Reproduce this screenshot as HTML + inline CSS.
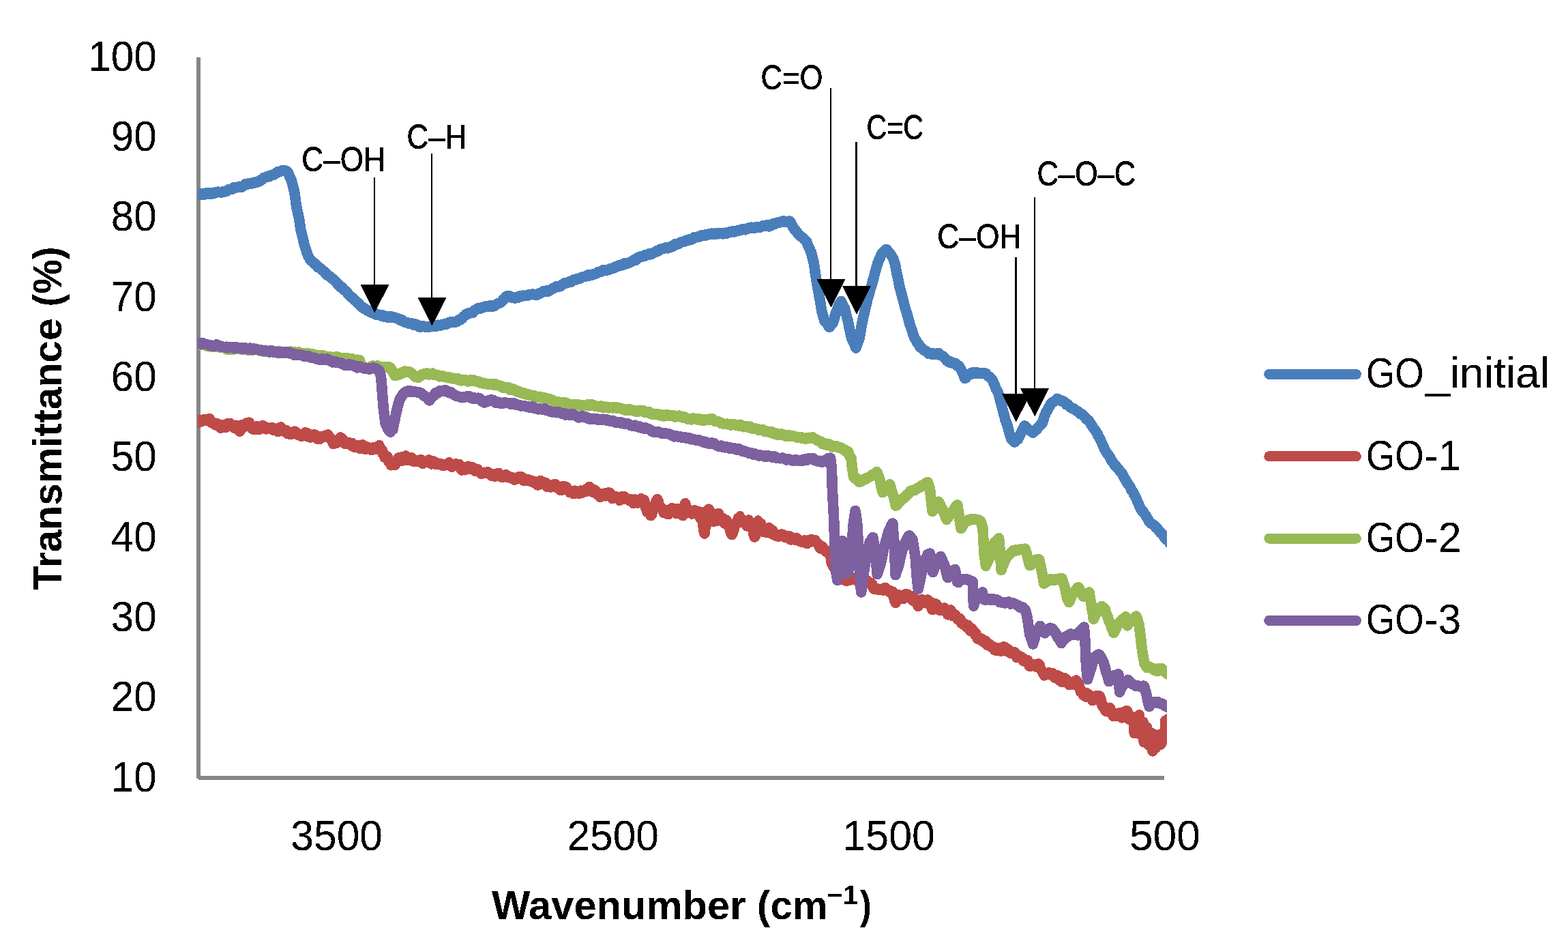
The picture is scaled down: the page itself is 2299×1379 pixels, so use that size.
<!DOCTYPE html>
<html lang="en">
<head>
<meta charset="utf-8">
<title>FTIR transmittance spectra of GO samples</title>
<style>
html,body{margin:0;padding:0;background:#fff;}
body{width:2299px;height:1379px;overflow:hidden;}
svg{display:block;font-family:"Liberation Sans",sans-serif;fill:#000;}
</style>
</head>
<body>
<svg width="2299" height="1379" viewBox="0 0 2299 1379">
<rect width="2299" height="1379" fill="#fff"/>
<defs><clipPath id="plot"><rect x="290" y="60" width="1421" height="1090"/></clipPath><filter id="crisp" filterUnits="userSpaceOnUse" x="0" y="0" width="2299" height="1379" color-interpolation-filters="sRGB"><feComponentTransfer><feFuncA type="discrete" tableValues="0 1"/></feComponentTransfer></filter></defs>
<g fill="#868686" shape-rendering="crispEdges">
<rect x="288" y="84" width="6" height="1057"/>
<rect x="291" y="1137" width="1416" height="6"/>
</g>
<g clip-path="url(#plot)" shape-rendering="crispEdges">
<polyline points="286,285 290.1,284.8 306.1,283.6 323.5,281.3 340.9,276.6 358.3,271.8 375.7,266.6 384.4,263.1 393.1,257.9 401.8,255.2 410.5,251.8 415.8,250 420,251 423.5,255.5 427.3,264.8 431.8,282.2 434.2,299.6 438.9,323.1 440.9,336.1 444,349.2 447.5,362.2 452.1,375.3 455.9,381.8 463.4,388.3 473.1,397.1 486.1,406.9 499.2,419.8 512.2,432.2 525.3,444.6 533.1,451.2 538.3,454.4 546.1,459.2 551.4,461.3 559.2,463.3 564.4,463.6 572.2,464.6 577.5,464.9 585.3,467.6 590.5,468.8 601.6,474.3 614.7,477.7 627.7,479 644,477 657.1,473.4 670,470.2 680,464 690.5,458.3 702.7,451.4 716.7,447.5 727.1,448.2 734.1,441.8 744.5,434 754.9,435.4 768.9,432.2 786.3,430.8 803.7,426.1 821.1,418.6 838.5,411.7 855.9,405.2 873.3,400.5 890.7,395.3 908.1,389.6 925.5,384.4 940,376.2 957.4,371 974.8,364.4 992.2,358.3 1009.6,351.3 1027,345.6 1044.4,343.2 1061.8,342.6 1079.3,338.6 1096.7,335.7 1114.1,332.2 1131.5,329.2 1148.9,324.7 1159.3,325.6 1164.5,334.8 1171.5,344.4 1181.6,352.2 1189.3,369.6 1193.3,387 1195.9,404.4 1199,421.8 1202,439.3 1205,456.7 1209,471 1215.9,479.8 1221.5,472 1226.3,456.7 1233.3,441 1238.5,452 1243.7,474 1249,497 1255,510.3 1260,497 1264.1,474 1271.6,439.3 1281.5,404.4 1286.7,387 1293,372 1300.3,366.5 1307,373 1312.5,387 1319.1,421.8 1324.3,440 1329.1,457.4 1334,474.8 1340,492.2 1347.4,506.1 1355,514 1362.2,518 1376.1,518.3 1386.6,527 1400.5,533.1 1407,538 1410,544.4 1414.4,553.7 1418.5,551 1423.1,547 1435.3,546.2 1445.8,547.6 1456.2,558.4 1464.6,579.3 1469.3,596.7 1474,614 1479.2,631.5 1483,642 1487.5,646.8 1492.5,643 1497.1,635 1502.3,625.4 1508,629.5 1514.6,633.7 1521,628 1528.6,619.7 1531.9,608.7 1537.8,596.6 1543,589.5 1550,585.2 1560.9,589.5 1573.1,598.4 1585.3,606.3 1597.5,617.6 1607.5,633.1 1613.9,645.3 1619.4,657.5 1626.5,669.7 1634.6,681.8 1641.8,690 1648.7,700.5 1653.8,708.6 1664,727.1 1672.4,745.7 1679.8,755 1685.8,764.2 1696.1,773.5 1703,782.8 1711,791.6 1718,799" fill="none" stroke="#4a7ebb" stroke-width="11.6" stroke-linejoin="round"/>
<polyline points="286,284.4 287.4,285 288.7,284.4 290.1,284.1 291.4,285.1 292.8,285.3 294.1,285 295.4,284 296.8,283.9 298.1,284.8 299.4,285.3 300.8,284.2 302.1,283.1 303.4,284 304.8,284.4 306.1,283.2 307.4,282.7 308.8,283.8 310.1,284.5 311.5,283.3 312.8,283.4 314.1,282.3 315.5,282.9 316.8,282.1 318.1,281.3 319.5,281.1 320.8,281.3 322.2,281.4 323.5,281.8 324.8,281.8 326.2,281.8 327.5,280.7 328.9,281 330.2,280.6 331.5,279.8 332.9,280.1 334.2,278.4 335.5,277.7 336.9,277.3 338.2,277.5 339.6,277.6 340.9,276.4 342.2,275 343.6,275.4 344.9,275.6 346.3,274.7 347.6,274.8 348.9,274.2 350.3,273.3 351.6,273.7 352.9,274 354.3,274.1 355.6,273.2 357,272.4 358.3,271.1 359.6,269.9 361,270.8 362.3,270.1 363.7,269.1 365,268.6 366.3,268.5 367.7,269.4 369,268.8 370.3,268.1 371.7,268.6 373,268 374.4,266.7 375.7,266.4 376.9,266.9 378.2,266.6 379.4,265.6 380.7,265.6 381.9,264.6 383.2,263.7 384.4,262.3 385.6,262.3 386.9,260.4 388.1,260.3 389.4,259.8 390.6,259.6 391.9,259.6 393.1,258.2 394.3,258.7 395.6,258.4 396.8,256.9 398.1,256.6 399.3,256.6 400.6,256.4 401.8,255.9 403,255.1 404.3,253.6 405.5,253.9 406.8,252.5 408,251.3 409.3,251.3 410.5,251.8 411.8,251 413.1,250.1 414.5,249.9 415.8,249.6 417.2,249.8 418.6,250.6 420,250.7 421.2,251.4 422.3,252.7 423.5,255.8 424.8,259.5 426,261.2 427.3,263.9 428.8,270.3 430.3,275.4 431.8,282.4 433,290.4 434.2,300 435.4,306.7 436.5,311.3 437.7,316.4 438.9,322.3 439.9,330.1 440.9,336.5 442.4,342.3 444,348.6 445.2,354.3 446.3,358.9 447.5,362.1 448.6,366 449.8,369.8 451,373.1 452.1,375.6 453.4,377.8 454.6,380.5 455.9,381.9 457.1,382.8 458.4,384.1 459.6,384.8 460.9,385.4 462.1,387.6 463.4,388.2 464.8,389.6 466.2,391.7 467.6,391.6 468.9,392.9 470.3,394.1 471.7,394.7 473.1,396.5 474.4,397.3 475.7,398.4 477,400.6 478.3,402.2 479.6,401.7 480.9,403.4 482.2,404.5 483.5,404.9 484.8,406 486.1,407.9 487.4,408.4 488.7,409.4 490,411 491.3,411.8 492.6,413.1 494,414.5 495.3,416.9 496.6,417.1 497.9,418.8 499.2,420.8 500.5,421 501.8,421.2 503.1,423.4 504.4,424.6 505.7,425.7 507,426.5 508.3,427.5 509.6,430 510.9,431.9 512.2,432.5 513.5,434.2 514.8,435.5 516.1,436 517.4,436.5 518.8,438.6 520.1,440.2 521.4,440.4 522.7,442.3 524,442.9 525.3,444.8 526.6,445.3 527.9,447.1 529.2,448.3 530.5,449.3 531.8,451 533.1,451.8 534.4,451.8 535.7,453.3 537,453.5 538.3,454.9 539.6,455.6 540.9,455.6 542.2,456.7 543.5,457.5 544.8,457.6 546.1,458.7 547.4,459.1 548.8,458.6 550.1,459 551.4,461.1 552.7,460.8 554,460.8 555.3,461.3 556.6,461.9 557.9,461.6 559.2,463.1 560.5,462.9 561.8,462.1 563.1,463.9 564.4,463.5 565.7,463.4 567,464.1 568.3,465.1 569.6,465.6 570.9,464 572.2,463.7 573.5,464 574.9,464.9 576.2,464.4 577.5,465 578.8,465.4 580.1,465.5 581.4,466.4 582.7,466.4 584,467.1 585.3,467.3 586.6,468.7 587.9,469.9 589.2,468.9 590.5,469.6 591.7,471 593,471.8 594.2,472.5 595.4,472.4 596.7,472.4 597.9,473.4 599.1,474 600.4,474.4 601.6,474.6 602.9,474 604.2,474 605.5,475.7 606.8,476.1 608.2,475.5 609.5,475.2 610.8,475.6 612.1,476.6 613.4,478.3 614.7,478.9 616,478.1 617.3,478.8 618.6,478.3 619.9,477.9 621.2,478 622.5,478.5 623.8,479.1 625.1,479.3 626.4,479.6 627.7,479 629,479.4 630.2,478.9 631.5,478.4 632.7,478.2 634,477.5 635.2,477.3 636.5,478.1 637.7,478.6 639,478.5 640.2,477.3 641.5,476.4 642.7,476.2 644,477.6 645.3,477.1 646.6,476.1 647.9,475.9 649.2,475.9 650.5,475.1 651.9,474.7 653.2,474.7 654.5,475.3 655.8,474.6 657.1,473.2 658.4,472.5 659.7,472 661,471.9 662.3,472 663.5,472.5 664.8,472.6 666.1,471.8 667.4,472.1 668.7,471.6 670,471.2 671.2,470.8 672.5,469 673.8,469 675,468.9 676.2,467.4 677.5,466.7 678.8,465 680,463.9 681.3,462.9 682.6,461.4 683.9,460.1 685.2,459.7 686.6,459.6 687.9,458.8 689.2,459 690.5,458.6 691.9,458.2 693.2,458.2 694.6,456.1 695.9,454.6 697.3,454.1 698.6,453.7 700,452.6 701.3,451.5 702.7,451.3 704,452.2 705.2,451.8 706.5,450.9 707.8,450.9 709.1,450.3 710.3,449.8 711.6,449.1 712.9,449.1 714.2,449.7 715.4,449.1 716.7,448.3 718,447.9 719.3,448.9 720.6,449.4 721.9,448.4 723.2,447.6 724.5,448.6 725.8,447.5 727.1,446.8 728.5,445.6 729.9,444.9 731.3,444.3 732.7,444 734.1,443.1 735.4,442.4 736.7,440.5 738,438.6 739.3,438 740.6,436.5 741.9,434.7 743.2,433.9 744.5,433.9 745.8,433.6 747.1,433.8 748.4,434.7 749.7,435.9 751,435.3 752.3,435.7 753.6,436.3 754.9,437 756.2,435.6 757.4,435.3 758.7,435.6 760,435.9 761.3,435.1 762.5,433.9 763.8,434.2 765.1,434.3 766.4,433.2 767.6,433.6 768.9,433.5 770.2,433.5 771.6,432.6 772.9,432.7 774.3,432.9 775.6,432 776.9,432.1 778.3,431.4 779.6,431.6 780.9,431.1 782.3,431.4 783.6,432 785,431.9 786.3,432.4 787.6,432 789,430.8 790.3,430.7 791.7,429.6 793,429.4 794.3,428.7 795.7,427.8 797,426.7 798.3,426.8 799.7,426.5 801,426.1 802.4,427.3 803.7,427 805,425.6 806.4,425.6 807.7,424.3 809.1,423.6 810.4,422.7 811.7,422.5 813.1,422 814.4,421.1 815.7,419.9 817.1,419.6 818.4,419.7 819.8,420.1 821.1,419.6 822.4,419.3 823.8,417.3 825.1,417 826.5,415.7 827.8,414.7 829.1,414.7 830.5,414.9 831.8,414.3 833.1,413.8 834.5,413 835.8,412.7 837.2,413.1 838.5,412.1 839.8,410.8 841.2,410.7 842.5,409.6 843.9,409.9 845.2,409.7 846.5,408.4 847.9,408.5 849.2,408.6 850.5,407.9 851.9,406.9 853.2,406.3 854.6,405.9 855.9,405.6 857.2,405.7 858.6,405 859.9,404.9 861.3,403.9 862.6,403 863.9,403.5 865.3,403.8 866.6,403 867.9,403 869.3,402.6 870.6,401.6 872,401.5 873.3,401.1 874.6,400.4 876,399.5 877.3,398.3 878.7,398.3 880,398.6 881.3,398.4 882.7,397.3 884,395.8 885.3,396.1 886.7,396.1 888,395.5 889.4,395.8 890.7,395.9 892,395.3 893.4,395.1 894.7,394 896.1,393.4 897.4,393.3 898.7,393.1 900.1,392.9 901.4,391.4 902.7,390.6 904.1,391.1 905.4,390.3 906.8,389.3 908.1,388.7 909.4,388.3 910.8,389 912.1,388.2 913.5,388.1 914.8,387.1 916.1,385.6 917.5,386.7 918.8,385.7 920.1,385.9 921.5,385.1 922.8,385 924.2,384.2 925.5,383.6 926.8,383.1 928.1,382.3 929.5,381 930.8,381.6 932.1,381.3 933.4,379 934.7,377.8 936,377.1 937.4,377.1 938.7,376.5 940,375.8 941.3,376.2 942.7,375 944,375 945.4,375.2 946.7,373.4 948,373.9 949.4,373.9 950.7,372.8 952,371.9 953.4,372.6 954.7,372.8 956.1,371.3 957.4,371 958.7,370.6 960.1,369.5 961.4,368.7 962.8,367.9 964.1,368.2 965.4,367.9 966.8,366.5 968.1,365.3 969.4,365.2 970.8,364.4 972.1,364.5 973.5,364.3 974.8,363.3 976.1,363.2 977.5,363.2 978.8,363.8 980.2,363.3 981.5,362.9 982.8,361.6 984.2,360.9 985.5,361.3 986.8,361.1 988.2,359.2 989.5,357.9 990.9,358.4 992.2,357.4 993.5,357.7 994.9,357.7 996.2,356.4 997.6,355.3 998.9,354.8 1000.2,354.3 1001.6,354.5 1002.9,353.7 1004.2,353 1005.6,353.1 1006.9,352.4 1008.3,351.6 1009.6,352.1 1010.9,350.6 1012.3,350.3 1013.6,351 1015,350.6 1016.3,348.8 1017.6,347.7 1019,348.3 1020.3,348 1021.6,347.6 1023,347.4 1024.3,346.7 1025.7,346.9 1027,345.7 1028.3,344.8 1029.7,344.8 1031,344.9 1032.4,344.3 1033.7,344.4 1035,344.9 1036.4,343.4 1037.7,344 1039,343.1 1040.4,343.3 1041.7,342.7 1043.1,342.2 1044.4,342.3 1045.7,343.2 1047.1,342.3 1048.4,343.2 1049.8,342.3 1051.1,341.9 1052.4,342.8 1053.8,342.6 1055.1,341.6 1056.4,342.3 1057.8,341.7 1059.1,342.8 1060.5,342.8 1061.8,341.5 1063.1,341.2 1064.5,342.3 1065.8,342.2 1067.2,340.9 1068.5,340.3 1069.9,339.9 1071.2,340.1 1072.6,339.7 1073.9,339.6 1075.3,338.7 1076.6,339.8 1078,339 1079.3,338.4 1080.6,338.6 1082,338.5 1083.3,337.2 1084.7,337.3 1086,337.5 1087.3,336.2 1088.7,336 1090,336.3 1091.3,336.5 1092.7,336.8 1094,335.5 1095.4,335.5 1096.7,334.5 1098,333.9 1099.4,334 1100.7,333.8 1102.1,333.2 1103.4,334.2 1104.7,334 1106.1,334.4 1107.4,333.6 1108.7,332.6 1110.1,333.6 1111.4,332.9 1112.8,332.9 1114.1,333.5 1115.4,332.3 1116.8,331.9 1118.1,331.2 1119.5,330.5 1120.8,330.6 1122.1,331.1 1123.5,330.5 1124.8,329.7 1126.1,331.1 1127.5,331.9 1128.8,330.9 1130.2,330.9 1131.5,330 1132.8,328.2 1134.2,328.6 1135.5,328.7 1136.9,327.5 1138.2,326.6 1139.5,326.6 1140.9,326.1 1142.2,326.2 1143.5,325.9 1144.9,325 1146.2,324.5 1147.6,325.1 1148.9,324 1150.2,325 1151.5,325.5 1152.8,325.3 1154.1,324.8 1155.4,324.7 1156.7,324.4 1158,324.1 1159.3,325.5 1160.6,328.8 1161.9,331.2 1163.2,333.5 1164.5,335.5 1165.9,337.5 1167.3,338.1 1168.7,340.4 1170.1,342.6 1171.5,344.2 1172.8,345.4 1174,346.2 1175.3,347.2 1176.5,348.1 1177.8,348.9 1179.1,350.5 1180.3,352.1 1181.6,352.8 1182.9,354.4 1184.2,358.3 1185.4,361.7 1186.7,363.7 1188,367.2 1189.3,369.3 1190.6,374.9 1192,380.3 1193.3,385.9 1194.6,394.9 1195.9,404.4 1197.5,413 1199,422.3 1200.5,430.6 1202,438.4 1203.5,448 1205,456.7 1206.3,461.2 1207.7,465.6 1209,470.4 1210.4,472 1211.8,473.3 1213.1,474.9 1214.5,477.5 1215.9,479.5 1217.3,478 1218.7,476 1220.1,474.2 1221.5,472.7 1222.7,468.9 1223.9,463.8 1225.1,460.1 1226.3,457 1227.7,452.8 1229.1,449.5 1230.5,445.7 1231.9,443.5 1233.3,441.5 1234.6,444.7 1235.9,447.4 1237.2,450 1238.5,451.5 1239.8,457.7 1241.1,462.7 1242.4,467 1243.7,472.3 1245,479.5 1246.3,485.4 1247.7,491.5 1249,496.8 1250.2,499.3 1251.4,501.2 1252.6,504.1 1253.8,507.7 1255,510 1256.2,506.2 1257.5,502.5 1258.8,499 1260,496.4 1261.4,488.4 1262.7,480.5 1264.1,472.8 1265.3,466.9 1266.6,461.8 1267.8,456.2 1269.1,450.6 1270.3,446 1271.6,440 1272.8,435 1274.1,431.7 1275.3,426.5 1276.5,422.4 1277.8,418.9 1279,414.4 1280.3,409.5 1281.5,404.9 1282.8,399.6 1284.1,395.6 1285.4,390.9 1286.7,386.2 1288,383.3 1289.2,380.2 1290.5,377.6 1291.7,373.9 1293,371.8 1294.2,370.2 1295.4,369.2 1296.7,368.1 1297.9,366.7 1299.1,365.5 1300.3,365.8 1301.6,368.5 1303,369 1304.3,370.5 1305.7,372.6 1307,374.4 1308.4,376.8 1309.8,379.2 1311.1,383 1312.5,387.1 1313.8,394.9 1315.1,401.8 1316.5,407.6 1317.8,413.9 1319.1,421.2 1320.4,425.5 1321.7,430.4 1323,435.6 1324.3,439.7 1325.5,444.7 1326.7,449.7 1327.9,453.8 1329.1,457 1330.3,461.5 1331.5,465.7 1332.8,470.8 1334,475.4 1335.2,478.4 1336.4,482.1 1337.6,485.2 1338.8,489.8 1340,493.1 1341.2,496 1342.5,497.5 1343.7,499.5 1344.9,502.7 1346.2,503.6 1347.4,505.2 1348.7,508 1349.9,509.4 1351.2,509.5 1352.5,511 1353.7,512.6 1355,513.1 1356.2,513.7 1357.4,514.4 1358.6,515.4 1359.8,516.4 1361,516.5 1362.2,518.5 1363.5,518.2 1364.7,518.7 1366,519 1367.3,517.7 1368.5,517.8 1369.8,519.3 1371,519.5 1372.3,518.9 1373.6,518.2 1374.8,517.9 1376.1,517.6 1377.4,519.9 1378.7,520.6 1380,520.9 1381.3,521.3 1382.7,522.2 1384,523.2 1385.3,524.7 1386.6,526 1387.9,528 1389.1,529.3 1390.4,529.4 1391.7,529.2 1392.9,531 1394.2,530.5 1395.4,530.8 1396.7,532.4 1398,531.7 1399.2,532.3 1400.5,532.5 1401.8,533.4 1403.1,535.7 1404.4,535.6 1405.7,536.3 1407,537.9 1408.5,540.3 1410,543.4 1411.5,546.2 1412.9,549.5 1414.4,554.4 1415.8,554.2 1417.1,551.6 1418.5,550.8 1419.7,549.3 1420.8,549.2 1421.9,547.5 1423.1,547.1 1424.5,548.1 1425.8,546.4 1427.2,545.4 1428.5,545.8 1429.9,546.2 1431.2,547.3 1432.6,546 1433.9,546.3 1435.3,547.2 1436.6,547.3 1437.9,547.5 1439.2,547 1440.5,546.9 1441.9,546.8 1443.2,546.6 1444.5,547.5 1445.8,547.6 1447.1,549.8 1448.4,551.1 1449.7,551.4 1451,552.8 1452.3,553.9 1453.6,554.8 1454.9,556.7 1456.2,559.3 1457.6,562.8 1459,565.7 1460.4,569.9 1461.8,572.4 1463.2,575.2 1464.6,578.6 1465.8,584.1 1466.9,588.7 1468.1,592.4 1469.3,596.6 1470.5,601.8 1471.7,606.4 1472.8,610.5 1474,615.4 1475.3,618.6 1476.6,622.1 1477.9,626.7 1479.2,631.9 1480.5,636.4 1481.7,640.2 1483,643.8 1484.5,644.3 1486,646 1487.5,648 1488.8,646.2 1490,644.5 1491.2,643.9 1492.5,643.7 1493.7,641.1 1494.8,638.5 1495.9,636.5 1497.1,634.4 1498.4,632 1499.7,629.3 1501,627.2 1502.3,624 1503.7,625.5 1505.2,627.6 1506.6,628.2 1508,629.8 1509.3,630.2 1510.6,631.1 1512,632.1 1513.3,633.3 1514.6,634 1515.9,632.5 1517.2,631.9 1518.4,630.3 1519.7,629.7 1521,627.8 1522.3,625.7 1523.5,625.2 1524.8,623.8 1526.1,622.1 1527.3,620.4 1528.6,619.8 1529.7,615.7 1530.8,611.9 1531.9,608.5 1533.1,606.1 1534.3,602.9 1535.4,601.8 1536.6,599 1537.8,596.5 1539.1,595.3 1540.4,592.1 1541.7,590.6 1543,589.5 1544.4,589.2 1545.8,588.1 1547.2,587.2 1548.6,586.4 1550,584.4 1551.4,584.9 1552.7,586 1554.1,587.1 1555.5,587.7 1556.8,587.2 1558.2,587.9 1559.5,588.9 1560.9,589 1562.3,591 1563.6,593 1565,592.4 1566.3,593.2 1567.7,595.5 1569,596.5 1570.4,597.6 1571.7,598.3 1573.1,598.1 1574.5,599.3 1575.8,600.3 1577.2,601.2 1578.5,602.3 1579.9,602.7 1581.2,604 1582.6,605.3 1583.9,606.7 1585.3,606.4 1586.7,606.9 1588,608.7 1589.4,610.4 1590.7,611 1592.1,612.9 1593.4,614.8 1594.8,615.2 1596.1,616.1 1597.5,618.3 1598.8,620.3 1600,622.3 1601.2,623.3 1602.5,626.2 1603.8,628.3 1605,629.4 1606.2,631.5 1607.5,633.1 1608.8,635.2 1610.1,638.5 1611.3,640.5 1612.6,642.2 1613.9,645.9 1615.3,648.5 1616.7,651.7 1618,654.8 1619.4,658 1620.8,660.5 1622.2,662.8 1623.7,664.8 1625.1,666.4 1626.5,668.9 1627.8,670.6 1629.2,673.8 1630.5,676 1631.9,677.8 1633.2,680.1 1634.6,681.8 1635.8,682.3 1637,684.3 1638.2,685.7 1639.4,686.7 1640.6,688.2 1641.8,690.2 1643.2,691.4 1644.6,692.6 1645.9,695.4 1647.3,698.5 1648.7,701.1 1650,702.7 1651.2,705.1 1652.5,706.9 1653.8,709.3 1655.1,710.5 1656.3,712.3 1657.6,715.1 1658.9,718.3 1660.2,719.5 1661.5,721.5 1662.7,724.7 1664,725.9 1665.4,728.8 1666.8,732.4 1668.2,736 1669.6,738.8 1671,742.7 1672.4,745.2 1673.6,747.4 1674.9,749.1 1676.1,749.6 1677.3,752.1 1678.6,753.6 1679.8,755.3 1681,757.7 1682.2,759.3 1683.4,761.4 1684.6,763.6 1685.8,765.4 1687.1,766.5 1688.4,767.6 1689.7,768.2 1690.9,768.8 1692.2,769.9 1693.5,771.4 1694.8,773.2 1696.1,773.3 1697.5,775.1 1698.9,777.3 1700.2,779.1 1701.6,780.6 1703,781.6 1704.3,782.7 1705.7,785.1 1707,786.9 1708.3,788.5 1709.7,789.3 1711,791.5 1712.4,792.2 1713.8,793.8 1715.2,796.2 1716.6,797.3 1718,798.9" fill="none" stroke="#4a7ebb" stroke-width="15.6" stroke-linejoin="round"/>
<polyline points="286,615 290.1,615.8 306.1,618.4 323.5,621 340.9,625.3 347,626 351.4,631 356,624 361.8,623.6 375.7,625.3 393.1,628.8 410.5,629.7 436.7,635.8 454.1,637.5 468,642.2 476.7,639.8 490,646 494.1,650 498,645 502.8,645.4 515,648.8 528.9,654 544.6,655 556,657 560,664 565.5,669.7 572,677 577.6,680.2 583,676 589.8,672.9 600.3,671.5 610.7,675 636.8,678.4 654.2,680.2 660,680.3 677.4,684.8 694.8,688 712.2,691.8 729.6,696.3 747,698.4 764.4,702.7 781.8,707.1 799.3,710.6 816.7,715 834.1,717.9 846.3,721.4 858,719 865.4,716.5 872,721 882.8,725.9 900.2,728.9 912.4,730.1 929.8,735 940,738 945.5,736.7 949,748 954.2,750.3 957.6,745.4 961.1,732.3 966.4,740.2 973.3,745.7 990.7,748.5 998,750 1001.2,756.4 1004.6,739.3 1008,748 1014,755 1022.6,752.3 1029.6,754 1033,779.8 1039.2,747.5 1045.3,764.5 1052.2,761 1061,762.8 1067.9,764.5 1073.1,782.4 1078.3,768 1085.3,754.4 1092.3,769.7 1097.5,760.2 1102.7,771.5 1106.2,786.8 1111.4,761 1118.4,775 1128.8,781 1139.3,783.7 1156.7,788.9 1174.1,792.7 1195,793.2 1208.9,804.5 1215.8,812 1222,830 1230,845 1243.5,849.7 1260,852 1274.8,854.6 1283.6,864 1304.4,865.7 1309,868 1313.1,882.4 1317,872 1321.8,875.8 1332.3,874 1341,879 1346.2,888.5 1351,879 1363,879.6 1367.1,893.7 1371,887 1382.2,895.2 1386,894 1389.7,899.8 1394,897 1399.6,902.2 1408.3,910.9 1425.7,924.8 1439.7,935.8 1451.8,946.2 1469.3,951.5 1486.7,956.7 1504.1,968.3 1521.5,975.3 1530.2,985.8 1547.6,993.9 1565,998.8 1573.7,1004.9 1580.7,1002.3 1591.1,1017.1 1608.5,1024.6 1617.2,1032.2 1631.1,1040.6 1639.8,1051.4 1650.3,1046.2 1660.7,1053.1 1662.1,1049.3 1663.2,1075 1670.2,1050.4 1671.4,1078.4 1676,1058.5 1677.2,1086.6 1681.8,1066.6 1683,1093.4 1687.6,1074.7 1689.9,1099.9 1693.4,1077 1694.6,1098.2 1699.2,1075.9 1700.5,1091 1705,1086 1708,1080 1708.6,1056 1710,1072 1712,1054 1716,1060" fill="none" stroke="#be4b48" stroke-width="11.6" stroke-linejoin="round"/>
<polyline points="286,615.5 287.4,616.4 288.7,616.6 290.1,619 291.4,619.2 292.8,615.9 294.1,615.7 295.4,616.5 296.8,617 298.1,616 299.4,614.6 300.8,615 302.1,614.9 303.4,616.3 304.8,615.4 306.1,613.9 307.4,613.9 308.8,618.6 310.1,617.9 311.5,620.2 312.8,619.4 314.1,621.2 315.5,621.2 316.8,623.1 318.1,620.8 319.5,623.5 320.8,622.6 322.2,624.7 323.5,627.2 324.8,622.6 326.2,622.9 327.5,622.8 328.9,622.7 330.2,624.7 331.5,626.2 332.9,625.5 334.2,620.5 335.5,620.6 336.9,620.5 338.2,623.4 339.6,623.2 340.9,625.1 342.1,625.8 343.3,627.2 344.6,625.3 345.8,623.3 347,625.3 348.5,629.2 349.9,628.6 351.4,632.1 352.5,631 353.7,628.6 354.9,622.8 356,623.6 357.4,625.7 358.9,624.6 360.4,621.8 361.8,619.8 363.1,619.7 364.3,619.3 365.6,619.2 366.9,624.2 368.1,626.9 369.4,627.6 370.6,628.8 371.9,628 373.2,629.3 374.4,629.4 375.7,627.8 377,624.6 378.4,625.8 379.7,629.5 381.1,627.9 382.4,627.4 383.7,625.3 385.1,623.7 386.4,624.1 387.7,626.2 389.1,628.5 390.4,628.8 391.8,627.1 393.1,627.1 394.4,628.2 395.8,627.4 397.1,628.8 398.5,628.9 399.8,626.8 401.1,630.3 402.5,627.8 403.8,630.1 405.1,630.5 406.5,631 407.8,632.6 409.2,628.6 410.5,626.5 411.8,626.1 413.1,629.3 414.4,630.9 415.7,629.7 417.1,632.4 418.4,632.7 419.7,630.6 421,634.4 422.3,635.8 423.6,633.5 424.9,635.5 426.2,636.7 427.5,633.8 428.8,633.4 430.1,633.1 431.5,632.2 432.8,635 434.1,633.1 435.4,636.8 436.7,636 438,637.1 439.4,637.7 440.7,638.1 442.1,639.4 443.4,636.2 444.7,637.5 446.1,635.4 447.4,633.8 448.7,637.2 450.1,639.5 451.4,635.2 452.8,638.4 454.1,640.9 455.4,641 456.6,640.6 457.9,639 459.2,638.9 460.4,636.7 461.7,638.1 462.9,637.7 464.2,640.5 465.5,643.3 466.7,643 468,639.7 469.2,643.1 470.5,640.5 471.7,641 473,640 474.2,640.8 475.5,638.8 476.7,638.8 478,637.9 479.4,637.6 480.7,637.2 482,639 483.4,641.8 484.7,643.6 486,643.3 487.3,646.2 488.7,650.5 490,648.4 491.4,646.6 492.7,649.5 494.1,648.2 495.4,647.9 496.7,644.9 498,642.1 499.2,641 500.4,642.8 501.6,645.9 502.8,643.8 504.2,645.7 505.5,650.1 506.9,650.3 508.2,650.3 509.6,650 510.9,650.6 512.3,648.7 513.6,649.9 515,653 516.3,649.4 517.5,651.5 518.8,654.9 520.1,653 521.3,653.4 522.6,654.8 523.8,655.6 525.1,652.6 526.4,654.9 527.6,657.2 528.9,657.1 530.2,653 531.5,652.1 532.8,653.1 534.1,655.2 535.4,658.1 536.8,658 538.1,655 539.4,656.7 540.7,656.1 542,656.8 543.3,658.2 544.6,659.4 545.9,658.1 547.1,656.8 548.4,655.7 549.7,656 550.9,658.6 552.2,658.5 553.5,657.8 554.7,655.9 556,652.8 557.3,658.2 558.7,659.5 560,659.4 561.4,665.1 562.8,665.4 564.1,670.2 565.5,670.5 566.8,668.7 568.1,669.4 569.4,675.6 570.7,676 572,678.8 573.4,681.7 574.8,679.3 576.2,678 577.6,681.1 579,681.6 580.3,678 581.6,677.7 583,674 584.4,671 585.7,673.1 587.1,675.7 588.4,675.4 589.8,669.9 591.1,672.2 592.4,674.6 593.7,670.1 595,668.1 596.4,670.5 597.7,673.2 599,674.4 600.3,673.8 601.6,670.9 602.9,670.5 604.2,673.7 605.5,676 606.8,676.2 608.1,674 609.4,676.2 610.7,675.6 612,676 613.3,675.2 614.6,675 615.9,675.4 617.2,673.6 618.5,676.9 619.8,679.3 621.1,677.8 622.4,676.5 623.8,677.4 625.1,676.9 626.4,677.6 627.7,676 629,673.9 630.3,675.4 631.6,679.2 632.9,679.8 634.2,678.3 635.5,676.1 636.8,678 638.1,677.9 639.5,680.5 640.8,680.1 642.2,680.5 643.5,679.2 644.8,680.8 646.2,679.7 647.5,680.8 648.8,682.3 650.2,682.6 651.5,680.7 652.9,681.1 654.2,680.5 655.7,681.5 657.1,680.2 658.5,677.7 660,679.3 661.3,682.1 662.7,684.1 664,683.4 665.4,680.7 666.7,681.8 668,679.8 669.4,681.9 670.7,682.3 672,681.5 673.4,680.4 674.7,683.7 676.1,688.1 677.4,689 678.7,686.3 680.1,687.8 681.4,688.8 682.8,685 684.1,686.7 685.4,685.1 686.8,683.3 688.1,687.4 689.4,685.6 690.8,686.4 692.1,685.2 693.5,685.1 694.8,686.2 696.1,690.1 697.5,689.1 698.8,687.5 700.2,687.8 701.5,690.6 702.8,691 704.2,692.8 705.5,694.1 706.8,694.1 708.2,693.7 709.5,692.2 710.9,693.6 712.2,693.1 713.5,692.2 714.9,691.6 716.2,692.8 717.6,694.3 718.9,694.2 720.2,697.1 721.6,696.1 722.9,694.9 724.2,697.1 725.6,698.2 726.9,694.7 728.3,696.1 729.6,697.3 730.9,693.3 732.3,694.4 733.6,697.5 735,699.2 736.3,697.3 737.6,697.8 739,698.8 740.3,698.6 741.6,695.7 743,697.7 744.3,699.7 745.7,697.8 747,699.4 748.3,700.6 749.7,700.3 751,699.9 752.4,701.2 753.7,702.9 755,702.8 756.4,701.8 757.7,701.3 759,701.6 760.4,699 761.7,700.4 763.1,700.4 764.4,698.9 765.7,702 767.1,704 768.4,701.4 769.8,702.2 771.1,704 772.4,702.4 773.8,702.7 775.1,703.9 776.4,703.6 777.8,705.2 779.1,705.7 780.5,704.7 781.8,706.4 783.1,707.6 784.5,705.7 785.8,707.7 787.2,709.5 788.5,711 789.9,708.9 791.2,705.6 792.6,704.5 793.9,708.9 795.3,707.4 796.6,706.7 798,708.6 799.3,707.2 800.6,708.3 802,713.2 803.3,711.4 804.7,710.4 806,712.8 807.3,714 808.7,710.7 810,710.9 811.3,711.4 812.7,709.7 814,709.7 815.4,712.9 816.7,715 818,713.7 819.4,713.7 820.7,715.2 822.1,718.6 823.4,716.2 824.7,712.7 826.1,712.5 827.4,716 828.7,714.4 830.1,713.7 831.4,718.1 832.8,717.2 834.1,719.3 835.5,721.5 836.8,721.1 838.2,719.3 839.5,721.5 840.9,723.7 842.2,721.1 843.6,719.2 844.9,721.5 846.3,720.9 847.6,722.7 848.9,723.4 850.2,722 851.5,719.2 852.8,722.6 854.1,720 855.4,720.5 856.7,720.5 858,720.6 859.2,717.4 860.5,717.5 861.7,718.2 862.9,714.2 864.2,713.6 865.4,715.1 866.7,718.6 868,720.8 869.4,717.1 870.7,717.5 872,719.1 873.4,719.4 874.7,723.8 876,724.7 877.4,723.4 878.8,726.2 880.1,728.3 881.4,726.1 882.8,723.8 884.1,725.2 885.5,724 886.8,723.1 888.2,726.8 889.5,724.8 890.8,722.4 892.2,722 893.5,722.2 894.8,722.9 896.2,727.3 897.5,730.4 898.9,728.6 900.2,728.7 901.6,729.4 902.9,727.8 904.3,728.1 905.6,728.3 907,730.6 908.3,733.3 909.7,732.6 911,728 912.4,728.2 913.7,728.5 915.1,727.7 916.4,728.6 917.8,731.6 919.1,730.7 920.4,731.3 921.8,732.2 923.1,733.9 924.4,731.5 925.8,732.2 927.1,735 928.5,737.5 929.8,735.7 931.1,732 932.3,734.6 933.6,734.8 934.9,737.1 936.2,734.9 937.5,734.1 938.7,733.7 940,730.8 941.4,736.4 942.8,737.7 944.1,732.8 945.5,736.6 946.7,744.7 947.8,743.4 949,750.4 950.3,749.2 951.6,746.2 952.9,753.5 954.2,755.6 955.3,754.8 956.5,750.6 957.6,746.8 958.8,744.1 959.9,741.4 961.1,737.6 962.4,733.9 963.8,731.7 965.1,734.9 966.4,740.6 967.8,743.7 969.2,743.9 970.5,746.1 971.9,748.6 973.3,751.7 974.6,748.1 976,748.6 977.3,750.9 978.7,753.1 980,753.7 981.3,746.8 982.7,749.2 984,746.1 985.3,744.6 986.7,750.1 988,750.6 989.4,745.7 990.7,748.7 991.9,752.7 993.1,750.5 994.4,746.1 995.6,750.2 996.8,751.7 998,748 999.6,751.9 1001.2,755.6 1002.3,750.9 1003.5,743.3 1004.6,737.7 1005.7,741.8 1006.9,747.2 1008,747.7 1009.2,751.2 1010.4,748.1 1011.6,749.9 1012.8,748.1 1014,750.6 1015.2,749.1 1016.5,748.5 1017.7,748.1 1018.9,748 1020.1,749.8 1021.4,752 1022.6,752.2 1024,749.5 1025.4,754.8 1026.8,759.2 1028.2,754.2 1029.6,750.6 1030.7,766 1031.9,777.9 1033,781.9 1034.2,772 1035.5,769.3 1036.7,765.1 1038,758.5 1039.2,746.2 1040.4,748.4 1041.6,749.7 1042.9,758.8 1044.1,762.6 1045.3,760.4 1046.7,764.2 1048.1,763.1 1049.4,761.4 1050.8,763.3 1052.2,755.8 1053.5,752.5 1054.7,758.7 1056,761.3 1057.2,759.1 1058.5,763.2 1059.7,759.5 1061,761.5 1062.4,767.3 1063.8,763.6 1065.1,762.4 1066.5,768.3 1067.9,769.6 1069.2,771.5 1070.5,777 1071.8,781.4 1073.1,783.7 1074.4,781 1075.7,777.1 1077,770.1 1078.3,767.2 1079.7,768 1081.1,764.4 1082.5,759.3 1083.9,758.3 1085.3,759.4 1086.7,761.1 1088.1,761.7 1089.5,763.7 1090.9,766 1092.3,765.7 1093.6,767.7 1094.9,770.8 1096.2,765.5 1097.5,762.1 1098.8,767.5 1100.1,767.5 1101.4,772.6 1102.7,771.7 1103.9,776 1105,782.7 1106.2,786.9 1107.5,785.6 1108.8,777.7 1110.1,767.2 1111.4,763.8 1112.8,765.8 1114.2,769.1 1115.6,767.3 1117,772.9 1118.4,779 1119.7,774.3 1121,776.8 1122.3,779.5 1123.6,780.4 1124.9,775.5 1126.2,775.5 1127.5,773.3 1128.8,779.9 1130.1,781.5 1131.4,777.7 1132.7,777.4 1134,783.3 1135.4,781.4 1136.7,783.4 1138,785.4 1139.3,783.6 1140.6,784 1142,786 1143.3,785.6 1144.7,783.3 1146,783 1147.3,784.2 1148.7,783.9 1150,787.1 1151.3,786.4 1152.7,786.7 1154,788.2 1155.4,787.4 1156.7,785.6 1158,788.9 1159.4,791 1160.7,787.6 1162.1,788.7 1163.4,788.5 1164.7,788.7 1166.1,791.7 1167.4,788.3 1168.7,789.2 1170.1,791.2 1171.4,792.5 1172.8,793.2 1174.1,792.3 1175.4,794.2 1176.7,794.3 1178,793.1 1179.3,791.8 1180.6,794.3 1181.9,795.7 1183.2,796.7 1184.5,794.1 1185.9,791.4 1187.2,794.3 1188.5,794 1189.8,790.4 1191.1,793 1192.4,792.2 1193.7,793.7 1195,791.7 1196.3,794 1197.5,794.5 1198.8,796.1 1200.1,798.6 1201.3,801.6 1202.6,802.2 1203.8,804 1205.1,800.7 1206.4,802.2 1207.6,803.7 1208.9,805.3 1210.3,806 1211.7,808.9 1213,809.1 1214.4,809.5 1215.8,810.3 1217,812.5 1218.3,818.4 1219.5,826.1 1220.8,827.3 1222,830.9 1223.3,832.3 1224.7,834.7 1226,839.6 1227.3,840.9 1228.7,842.8 1230,847.5 1231.3,844.6 1232.7,847.4 1234,849.5 1235.4,848.3 1236.8,846.5 1238.1,845.4 1239.5,846.3 1240.8,851.2 1242.2,850.5 1243.5,847.3 1244.8,849.2 1246,850 1247.3,848.3 1248.6,848.1 1249.8,847.5 1251.1,849.5 1252.4,849.1 1253.7,846.5 1254.9,847.4 1256.2,847.6 1257.5,850.5 1258.7,852.3 1260,854.8 1261.3,853.3 1262.7,850.6 1264,853.8 1265.4,856.2 1266.7,853.3 1268.1,850.5 1269.4,852.4 1270.8,854.4 1272.1,851.3 1273.5,853.5 1274.8,853.6 1276.1,854.9 1277.3,854.3 1278.6,855.8 1279.8,860.7 1281.1,862.9 1282.3,863.5 1283.6,863.2 1284.9,862.9 1286.2,863.2 1287.5,863 1288.8,864.5 1290.1,864.6 1291.4,863.9 1292.7,863.3 1294,862.9 1295.3,865 1296.6,863 1297.9,861.3 1299.2,864 1300.5,863.9 1301.8,864.6 1303.1,867 1304.4,865.2 1305.6,868 1306.7,867.2 1307.8,869.9 1309,867.4 1310.4,873.6 1311.7,879.9 1313.1,883.3 1314.4,877.8 1315.7,876.6 1317,871.7 1318.2,873.8 1319.4,872.8 1320.6,873.6 1321.8,873.9 1323.1,876.4 1324.4,877.6 1325.7,873.6 1327,871.6 1328.4,870.5 1329.7,874 1331,871.3 1332.3,873.4 1333.5,874.3 1334.8,873.1 1336,876.8 1337.3,879.2 1338.5,880.2 1339.8,879.4 1341,877.7 1342.3,881.2 1343.6,882.4 1344.9,884.2 1346.2,888.3 1347.4,885.1 1348.6,883.1 1349.8,883 1351,878.6 1352.3,878.8 1353.7,880 1355,882.7 1356.3,883.8 1357.7,882 1359,883.1 1360.3,879.1 1361.7,881.4 1363,883 1364.4,882.3 1365.7,889.6 1367.1,893.6 1368.4,893 1369.7,890.5 1371,884.8 1372.2,885.1 1373.5,886.6 1374.7,888.8 1376,890.7 1377.2,893.9 1378.5,893.3 1379.7,893.3 1381,894 1382.2,894.1 1383.5,891.4 1384.7,891 1386,893.1 1387.2,893.2 1388.5,895.7 1389.7,900.8 1391.1,896.9 1392.6,894.5 1394,894 1395.4,899.5 1396.8,902.7 1398.2,902.3 1399.6,901.4 1400.8,901.1 1402.1,904.3 1403.3,904.5 1404.6,908 1405.8,907.1 1407.1,906.1 1408.3,907.5 1409.6,912.8 1411,914.2 1412.3,913.6 1413.7,913.8 1415,915.3 1416.3,918.3 1417.7,918.6 1419,916.2 1420.3,918.3 1421.7,923 1423,924.7 1424.4,920.6 1425.7,923.5 1427,924.7 1428.2,925.6 1429.5,930.1 1430.8,928.3 1432.1,931.9 1433.3,936 1434.6,936.1 1435.9,934.8 1437.2,935.5 1438.4,938.3 1439.7,936.5 1441,938.4 1442.4,941.2 1443.7,939.1 1445.1,939.4 1446.4,942.5 1447.8,945.3 1449.1,943.5 1450.5,944 1451.8,945.5 1453.1,947.6 1454.5,947.6 1455.8,947.7 1457.2,950.9 1458.5,952.7 1459.9,952.4 1461.2,953.5 1462.6,949.9 1463.9,950 1465.3,952.3 1466.6,953 1468,954.2 1469.3,950.9 1470.6,948.5 1472,947.8 1473.3,949.5 1474.7,949.7 1476,952.9 1477.3,954.8 1478.7,951.8 1480,953.4 1481.3,957.2 1482.7,956 1484,957.8 1485.4,956.5 1486.7,955.3 1488,956.5 1489.4,959 1490.7,963.7 1492.1,961 1493.4,960.8 1494.7,962.6 1496.1,962.2 1497.4,963.8 1498.7,963.6 1500.1,968.3 1501.4,968.8 1502.8,967.4 1504.1,968.1 1505.4,967.3 1506.8,967.8 1508.1,973.1 1509.5,976.1 1510.8,976.3 1512.1,975.5 1513.5,974 1514.8,974.4 1516.1,973.6 1517.5,973.8 1518.8,975.6 1520.2,977.7 1521.5,974.9 1522.7,972.8 1524,974.5 1525.2,978.3 1526.5,981.4 1527.7,982.9 1529,985.9 1530.2,988.1 1531.5,989.8 1532.9,988.1 1534.2,987 1535.6,988 1536.9,986.3 1538.2,985.7 1539.6,988.4 1540.9,988.1 1542.2,987.3 1543.6,987.1 1544.9,989.8 1546.3,993 1547.6,991.8 1548.9,990.2 1550.3,989.6 1551.6,992.7 1553,996.9 1554.3,991.8 1555.6,993.4 1557,999.3 1558.3,993.3 1559.6,995.5 1561,993.8 1562.3,998.5 1563.7,996 1565,998.8 1566.2,999.8 1567.5,1003.5 1568.7,1002.8 1570,1000.3 1571.2,1000.2 1572.5,1001.2 1573.7,1002.9 1575.1,1002.9 1576.5,998.1 1577.9,997 1579.3,998.9 1580.7,1002 1582,1003.5 1583.3,1009.5 1584.6,1013.8 1585.9,1011.9 1587.2,1014.1 1588.5,1018.7 1589.8,1019.6 1591.1,1019.6 1592.4,1021.2 1593.8,1015.9 1595.1,1017.4 1596.5,1017.9 1597.8,1021.1 1599.1,1021.9 1600.5,1022.8 1601.8,1026.7 1603.1,1024.1 1604.5,1025.7 1605.8,1022.1 1607.2,1019.9 1608.5,1025.3 1609.7,1025.4 1611,1023 1612.2,1020.1 1613.5,1023 1614.7,1027.7 1616,1033.4 1617.2,1035.8 1618.5,1034.5 1619.7,1036.8 1621,1042 1622.3,1040.7 1623.5,1040.5 1624.8,1042.9 1626,1038.1 1627.3,1037.3 1628.6,1043.6 1629.8,1045.4 1631.1,1046 1632.3,1049.5 1633.6,1047.7 1634.8,1047.1 1636.1,1045.3 1637.3,1049.7 1638.6,1049.2 1639.8,1049.1 1641.1,1045.6 1642.4,1044.6 1643.7,1050.3 1645,1051.8 1646.4,1045.8 1647.7,1043.4 1649,1047.3 1650.3,1043.8 1651.6,1041.5 1652.9,1042.2 1654.2,1050.5 1655.5,1054.1 1656.8,1051.3 1658.1,1050.1 1659.4,1052.6 1660.7,1055.9 1662.1,1050.7 1663.2,1074.5 1664.6,1067.4 1666,1064.9 1667.4,1061.7 1668.8,1054.2 1670.2,1047.8 1671.4,1075.5 1672.6,1074.2 1673.7,1071.5 1674.8,1065 1676,1057.9 1677.2,1087.6 1678.3,1084.3 1679.5,1076.8 1680.7,1072.8 1681.8,1066.3 1683,1090.8 1684.2,1089.9 1685.3,1086.8 1686.4,1079.3 1687.6,1073.8 1688.8,1085.8 1689.9,1100.8 1691.1,1091.3 1692.2,1083.4 1693.4,1076.9 1694.6,1096 1695.8,1091.3 1696.9,1085.5 1698,1082.2 1699.2,1076.9 1700.5,1091.4 1702,1090.7 1703.5,1087.9 1705,1084.5 1706.5,1082.1 1708,1080.4 1708.6,1056.3 1710,1072 1711,1062 1712,1054 1713.3,1054 1714.7,1055.6 1716,1059.9" fill="none" stroke="#be4b48" stroke-width="15.6" stroke-linejoin="round"/>
<polyline points="286,504 290.1,504 332.2,510.5 384,513.5 436.7,517 471.5,521.4 488.9,523.9 506.3,524.9 523.7,527 527,528 530,537.5 534.8,540.3 541.8,539.3 550,537.2 558.5,536.7 572.4,538.3 579.4,550.5 586,548 593.3,544.8 602,546 610.7,552.2 620.9,548.8 633.1,548 647,552 664.4,554.4 681.8,557.9 694.8,558.3 716.7,562.8 729.6,564.7 751.5,571.1 764.4,575.2 786.3,580.5 799.3,584.4 821.1,590.3 834.1,592.2 855.9,593.8 868.9,594 890.7,597.2 903.7,597.6 925.5,600.7 938.5,602.7 960,606.3 973.3,608.2 996,609.3 1000,610 1017.4,614.5 1043.5,615.2 1060,621 1069.6,623.2 1087,622.6 1107.9,628.7 1139.3,635.4 1174.1,640.6 1191.5,642.3 1208.9,651 1226.3,654.2 1235,657 1243.7,663.6 1248,672.3 1249.3,684.4 1251.5,698.4 1259.4,705.3 1271.5,701 1278.3,697.4 1285.5,692.8 1290,704 1294.2,722.4 1299,716 1304.6,709.7 1309,724 1313.3,740.1 1323.8,731 1328.8,727 1336,719.3 1348.1,714.9 1360.1,706.4 1363.5,716 1367.1,750.1 1371.5,742 1375.8,734.3 1382,748 1388,760.6 1396,750 1403.7,740.4 1406.5,757 1408.9,773.6 1417,764 1426.3,759.2 1438,763.5 1441,775 1443,810 1445.4,830.7 1452,815 1458,795 1464.6,790 1466.5,812 1468,835.4 1476,815 1485.5,807.4 1502.9,805.3 1506,815 1509.8,829.3 1516,822 1523.8,819.2 1527,835 1530.7,854.6 1537,850 1544.6,848.8 1556.8,847.4 1561,860 1564,876 1567.3,882.4 1573,870 1581.2,859.3 1585,868 1588.2,874.6 1592,870 1596.9,868.3 1600,885 1603.3,908.3 1609,895 1615.5,889.1 1620,893 1626,910 1632.9,927.4 1640,912 1650.3,903.4 1653,916 1657,910 1665.9,903.4 1670,915 1674,950 1678,972 1681.6,977.6 1688,980 1695.5,984.5 1700,981 1704.2,980 1708,984 1711,987 1716,990" fill="none" stroke="#98b954" stroke-width="11.6" stroke-linejoin="round"/>
<polyline points="286,503.2 287.4,502.9 288.7,502.7 290.1,504 291.4,504.6 292.7,504.3 294,505 295.4,505.2 296.7,505.4 298,505.7 299.3,505.3 300.6,505.2 301.9,505.7 303.3,506.7 304.6,507.5 305.9,506.4 307.2,507.7 308.5,508.2 309.8,507.5 311.1,508 312.5,507.9 313.8,507.8 315.1,507.7 316.4,507.7 317.7,507.9 319,507.6 320.4,507.6 321.7,508 323,509.5 324.3,509.4 325.6,509.3 326.9,509.4 328.3,509 329.6,509.8 330.9,510.3 332.2,511.7 333.5,512.1 334.8,510.9 336.1,511.6 337.4,511.3 338.7,512 340,512.6 341.3,512.5 342.6,511.2 343.9,510.4 345.1,509.9 346.4,509.8 347.7,510.9 349,510 350.3,509.8 351.6,509.9 352.9,511.5 354.2,512.3 355.5,511.2 356.8,511.4 358.1,512.2 359.4,511.6 360.7,512.6 362,512.5 363.3,513.1 364.6,512.8 365.9,513.1 367.2,513.2 368.5,512.5 369.8,513 371.1,513 372.3,512.4 373.6,512.7 374.9,512 376.2,512.6 377.5,512.7 378.8,512.4 380.1,512.8 381.4,514.2 382.7,514.5 384,514.1 385.3,514.6 386.6,515.2 387.9,514.2 389.1,513.4 390.4,514.6 391.7,515.5 393,514.7 394.3,514.4 395.6,514.3 396.9,515.8 398.1,515.2 399.4,514.4 400.7,514.8 402,514.5 403.3,514.4 404.6,514.8 405.9,515.1 407.1,514.7 408.4,514.3 409.7,515.4 411,516.8 412.3,516.8 413.6,517.2 414.8,516 416.1,516.6 417.4,516.8 418.7,516.9 420,516.4 421.3,516.1 422.6,516.7 423.8,516.6 425.1,515.7 426.4,515.1 427.7,515.4 429,517.4 430.3,516.9 431.6,515.9 432.8,516.3 434.1,516.3 435.4,517.3 436.7,517 438,516.2 439.3,517.3 440.6,517.4 441.9,518 443.1,518.1 444.4,517.9 445.7,517.6 447,517.7 448.3,517.6 449.6,517.4 450.9,517.8 452.2,518.5 453.5,518.6 454.7,519 456,519.9 457.3,520.5 458.6,519.1 459.9,519.2 461.2,520.7 462.5,520.3 463.8,520.6 465.1,521.2 466.3,521.5 467.6,521 468.9,520.8 470.2,521.2 471.5,521.3 472.8,520.7 474.2,520.9 475.5,522.6 476.9,522.3 478.2,522.9 479.5,523.8 480.9,524.3 482.2,523.2 483.5,522.7 484.9,524.3 486.2,524.7 487.6,524 488.9,524.3 490.2,524.3 491.6,523.6 492.9,522.9 494.3,522.8 495.6,523.4 496.9,523.9 498.3,523.9 499.6,525.3 500.9,524.9 502.3,524.4 503.6,524.5 505,524.8 506.3,525.8 507.6,524.5 509,524.6 510.3,526.4 511.7,527.4 513,525.9 514.3,525.4 515.7,526 517,525.9 518.3,527.2 519.7,527.2 521,527.7 522.4,527.9 523.7,527.3 524.8,528.6 525.9,528.6 527,527.7 528.5,531.4 530,537.2 531.2,538.4 532.4,538.7 533.6,538.2 534.8,540.1 536.2,539.4 537.6,539.9 539,540.2 540.4,540.4 541.8,540.1 543.2,537.9 544.5,536.8 545.9,536.8 547.3,536.1 548.6,536.8 550,536.6 551.2,536.6 552.4,536.3 553.6,536 554.9,537.8 556.1,537.8 557.3,537.6 558.5,538.6 559.8,538.9 561,539.2 562.3,538.3 563.6,537.5 564.8,538.3 566.1,537.9 567.3,538.7 568.6,538.1 569.9,537.7 571.1,537.9 572.4,538.9 573.8,541.2 575.2,544 576.6,545.3 578,548.7 579.4,550.6 580.7,548.9 582,549.1 583.4,549.4 584.7,548.1 586,548 587.2,548.2 588.4,547.7 589.6,545.7 590.9,545.3 592.1,545.8 593.3,544.1 594.5,544 595.8,545.5 597,544.6 598.3,544.4 599.5,545.6 600.8,545.1 602,546.2 603.2,547 604.5,548.1 605.7,549.5 607,550.6 608.2,552 609.5,551.6 610.7,552.4 612,553.1 613.2,553.2 614.5,552.5 615.8,550.8 617.1,551 618.4,549.4 619.6,548.1 620.9,548.1 622.3,547.5 623.6,548.5 625,547.8 626.3,546.9 627.7,548.3 629,549.1 630.4,547.5 631.7,547.8 633.1,547.9 634.4,547.1 635.6,548.5 636.9,549.6 638.2,549 639.4,549.8 640.7,549.7 641.9,549.7 643.2,550.7 644.5,551.8 645.7,551.3 647,551 648.3,551.2 649.7,551 651,552.5 652.4,552.2 653.7,552.5 655,552.5 656.4,553.6 657.7,552.7 659,553.8 660.4,553.6 661.7,554.1 663.1,554.9 664.4,554.7 665.7,554.3 667.1,554.8 668.4,555.1 669.8,555.8 671.1,554.8 672.4,555.1 673.8,556.4 675.1,557.6 676.4,557.9 677.8,557 679.1,557 680.5,556.7 681.8,556.9 683.1,557.1 684.4,558.1 685.7,558.9 687,558.9 688.3,557.7 689.6,556.8 690.9,558.3 692.2,557.4 693.5,557.7 694.8,557.2 696.1,558.2 697.4,558.8 698.7,559 700,559 701.2,559.9 702.5,559.3 703.8,560.3 705.1,561.2 706.4,560.7 707.7,561.9 709,561.5 710.3,562.2 711.5,561.8 712.8,562.4 714.1,563 715.4,563.2 716.7,562.6 718,563.4 719.3,563 720.6,563.1 721.9,563 723.2,562.7 724.4,564 725.7,564.4 727,563.2 728.3,564 729.6,564.1 730.9,564.7 732.2,565.7 733.5,565.4 734.8,565.5 736,567.7 737.3,568 738.6,568 739.9,567.4 741.2,568.4 742.5,568.2 743.8,567.9 745.1,567.7 746.3,569.6 747.6,571 748.9,571.4 750.2,571.7 751.5,570.8 752.8,570.2 754.1,571.1 755.4,572.6 756.7,572.8 758,574 759.2,574.5 760.5,573.3 761.8,574.3 763.1,575 764.4,576 765.7,575.4 767,576.6 768.3,577 769.6,576.3 770.8,577.9 772.1,578.6 773.4,578.4 774.7,578 776,579 777.3,579.2 778.6,579.4 779.9,579.3 781.1,580.2 782.4,579.6 783.7,579.8 785,581.3 786.3,581.8 787.6,581.7 788.9,582.4 790.2,581.6 791.5,581.3 792.8,582.5 794.1,582 795.4,583.2 796.7,584 798,583.4 799.3,583 800.6,583.7 801.9,585.3 803.1,585.4 804.4,584.7 805.7,584.7 807,585 808.3,585.7 809.6,586.1 810.8,586.8 812.1,588 813.4,588 814.7,588.6 816,589.6 817.3,589.9 818.5,588.8 819.8,589.3 821.1,589.9 822.4,589.8 823.7,590.3 825,591.2 826.3,590.1 827.6,589.9 828.9,589.8 830.2,591.3 831.5,590.9 832.8,591.7 834.1,592.2 835.4,592.9 836.7,593.3 837.9,592.5 839.2,592.4 840.5,593 841.8,592.4 843.1,593.5 844.4,592.9 845.6,592.8 846.9,592.7 848.2,593.7 849.5,594 850.8,594.6 852.1,593.7 853.3,593.9 854.6,594.2 855.9,594.6 857.2,594.4 858.5,594.6 859.8,594 861.1,593.1 862.4,593.8 863.7,594.8 865,593.2 866.3,592.7 867.6,592.9 868.9,594.2 870.2,593.8 871.5,594.9 872.7,594.5 874,595.1 875.3,595.6 876.6,595.4 877.9,595.9 879.2,596.2 880.4,595 881.7,595.2 883,596.8 884.3,597.5 885.6,597.5 886.9,596.2 888.1,596.5 889.4,597 890.7,596.3 892,597.3 893.3,597.8 894.6,597.3 895.9,597.4 897.2,597.2 898.5,597.8 899.8,597.3 901.1,596.3 902.4,597.6 903.7,596.9 905,597.3 906.3,598.4 907.5,598.5 908.8,598.2 910.1,598.1 911.4,599.2 912.7,599.7 914,599.5 915.2,600.5 916.5,601 917.8,601.3 919.1,601 920.4,599.9 921.7,600.9 922.9,600.9 924.2,600.2 925.5,601.3 926.8,601 928.1,601.6 929.4,601.9 930.7,602.5 932,603 933.3,601.7 934.6,602.1 935.9,603.2 937.2,601.8 938.5,601.3 939.8,602.1 941,601.6 942.3,601.5 943.6,603.5 944.8,604 946.1,603.5 947.4,603.3 948.6,603.5 949.9,604.4 951.1,605 952.4,604.1 953.7,605 954.9,606.6 956.2,607 957.5,606.6 958.7,607.2 960,607 961.3,606.5 962.7,606.6 964,606.7 965.3,608.3 966.6,608.5 968,608.1 969.3,608.9 970.6,607.8 972,608.6 973.3,610 974.6,608.8 976,608.1 977.3,607.6 978.6,609 980,609 981.3,609.6 982.6,608.7 984,608.7 985.3,608.3 986.7,608.7 988,610.2 989.3,610.9 990.7,610.9 992,610 993.3,610.3 994.7,609.3 996,609.2 997.3,610.8 998.7,610.3 1000,611.3 1001.3,612.1 1002.7,611.3 1004,611.2 1005.4,612.7 1006.7,613.1 1008,613.7 1009.4,614.4 1010.7,613.8 1012,613.9 1013.4,614.8 1014.7,613.7 1016.1,612.9 1017.4,613.1 1018.7,613.4 1020,613.7 1021.3,613.4 1022.6,614.9 1023.9,615.2 1025.2,613.7 1026.5,614.1 1027.8,615.3 1029.1,616.1 1030.5,614.7 1031.8,615.2 1033.1,615.9 1034.4,614.8 1035.7,614.5 1037,615.5 1038.3,614.5 1039.6,615.3 1040.9,614.6 1042.2,613.4 1043.5,614.1 1044.8,614.1 1046,615.8 1047.3,616.3 1048.6,617.5 1049.8,617.2 1051.1,617.7 1052.4,617.8 1053.7,617.8 1054.9,618.5 1056.2,619.3 1057.5,620.6 1058.7,620.7 1060,620.8 1061.4,621.1 1062.7,621.4 1064.1,621.5 1065.5,621.3 1066.9,621.2 1068.2,621.9 1069.6,622.5 1070.9,623 1072.3,623 1073.6,622.2 1075,621.4 1076.3,621.6 1077.6,622.9 1079,622.3 1080.3,622.4 1081.6,622.8 1083,624 1084.3,623.7 1085.7,622.4 1087,623.3 1088.3,624.6 1089.6,624.8 1090.9,625.7 1092.2,625.2 1093.5,624.9 1094.8,624.6 1096.1,626 1097.5,625.8 1098.8,625.7 1100.1,625.2 1101.4,626.7 1102.7,628.1 1104,628 1105.3,628.1 1106.6,627.5 1107.9,628.7 1109.2,628.7 1110.5,628.4 1111.8,629.6 1113.1,630.7 1114.4,630.5 1115.8,630.5 1117.1,629.4 1118.4,629.5 1119.7,630.9 1121,632.2 1122.3,632.2 1123.6,631.8 1124.9,632.4 1126.2,632.4 1127.5,632.3 1128.8,633.8 1130.1,633.8 1131.5,633.2 1132.8,635 1134.1,635.3 1135.4,634.7 1136.7,636 1138,636.8 1139.3,637 1140.6,636.1 1141.9,637.2 1143.2,637.6 1144.5,636.4 1145.7,636.1 1147,636.2 1148.3,637.2 1149.6,638.3 1150.9,637.7 1152.2,638.4 1153.5,639.5 1154.8,638.2 1156.1,637.4 1157.3,637.8 1158.6,638.3 1159.9,639.2 1161.2,638.4 1162.5,639.1 1163.8,639.2 1165.1,639.5 1166.4,640.2 1167.7,640.8 1168.9,641.2 1170.2,641.3 1171.5,641.5 1172.8,640.4 1174.1,640.3 1175.4,642 1176.8,642.6 1178.1,642.2 1179.5,642.9 1180.8,643.4 1182.1,642 1183.5,641.6 1184.8,642.3 1186.1,641.3 1187.5,641.7 1188.8,642.6 1190.2,641.6 1191.5,641 1192.8,642 1194.2,642.6 1195.5,643.5 1196.9,644.5 1198.2,645.2 1199.5,645.4 1200.9,646 1202.2,646.7 1203.5,647 1204.9,649.2 1206.2,650.8 1207.6,650.7 1208.9,650 1210.2,650 1211.6,651.3 1212.9,652.4 1214.3,651.3 1215.6,650.8 1216.9,651.4 1218.3,653.4 1219.6,654.5 1220.9,654.9 1222.3,653.9 1223.6,654.2 1225,653.8 1226.3,653.8 1227.5,655.2 1228.8,655.4 1230,655.6 1231.3,656.6 1232.5,655.8 1233.8,656.7 1235,658.1 1236.2,658.3 1237.5,659 1238.7,659.2 1240,661 1241.2,662.2 1242.5,661.9 1243.7,662 1245.1,666.4 1246.6,669.3 1248,671.3 1249.3,684.1 1250.4,691.3 1251.5,699 1252.8,700.6 1254.1,700.6 1255.5,700.7 1256.8,701.5 1258.1,704.5 1259.4,706 1260.7,705.5 1262.1,705.9 1263.4,704.8 1264.8,704.1 1266.1,703.3 1267.5,702 1268.8,702.4 1270.2,700.5 1271.5,700.4 1272.9,699.6 1274.2,699.5 1275.6,698.6 1276.9,697.3 1278.3,696 1279.5,695.3 1280.7,695.7 1281.9,695.1 1283.1,694.4 1284.3,692.9 1285.5,691.5 1287,694.9 1288.5,698.3 1290,702.8 1291.4,710 1292.8,716 1294.2,721.7 1295.4,720.7 1296.6,719.4 1297.8,717.7 1299,715.6 1300.4,714.1 1301.8,712.4 1303.2,711.9 1304.6,709.9 1306.1,714.5 1307.5,719.5 1309,724 1310.4,728.6 1311.9,734.5 1313.3,741 1314.6,740.5 1315.9,739.3 1317.2,736.7 1318.5,735 1319.9,734.3 1321.2,733.7 1322.5,731.9 1323.8,730.5 1325,730.2 1326.3,728.5 1327.5,727.9 1328.8,726.4 1330,724.8 1331.2,724.6 1332.4,723.6 1333.6,721.6 1334.8,719.9 1336,719.1 1337.3,719.3 1338.7,718.7 1340,718.3 1341.4,718.4 1342.7,717 1344.1,715.8 1345.4,715.2 1346.8,715.1 1348.1,714.7 1349.4,712.9 1350.8,711.7 1352.1,712.8 1353.4,712.2 1354.8,710.1 1356.1,709.2 1357.4,707.9 1358.8,708.4 1360.1,706.6 1361.2,709.5 1362.4,713.3 1363.5,716.6 1364.7,728.6 1365.9,738.8 1367.1,749.4 1368.6,748.2 1370,745.7 1371.5,743 1372.9,739.5 1374.4,736.6 1375.8,735.1 1377,736.6 1378.3,738.9 1379.5,742.5 1380.8,744.1 1382,746.4 1383.2,750.2 1384.4,752.1 1385.6,755.7 1386.8,758.8 1388,761.3 1389.3,758.2 1390.7,757.5 1392,755.7 1393.3,753.4 1394.7,751.1 1396,750.4 1397.3,749.6 1398.6,746.6 1399.8,745 1401.1,742.7 1402.4,742.1 1403.7,740 1405.1,748.8 1406.5,757.7 1407.7,766.2 1408.9,774.4 1410.2,772.8 1411.6,770.5 1413,767.8 1414.3,766.2 1415.7,765.3 1417,763.6 1418.3,762.8 1419.7,762.1 1421,762.8 1422.3,761.8 1423.6,760.8 1425,760.9 1426.3,760.4 1427.6,761.3 1428.9,760.7 1430.2,761.4 1431.5,761.6 1432.8,762 1434.1,761.9 1435.4,762.1 1436.7,763.2 1438,763.7 1439.5,768.4 1441,774.6 1442,793.4 1443,810.7 1444.2,819.7 1445.4,829.4 1446.7,825.9 1448,823.4 1449.4,819.9 1450.7,818.1 1452,814.8 1453.2,811.3 1454.4,807 1455.6,802.8 1456.8,798.5 1458,794.9 1459.3,795.2 1460.6,793.2 1462,792.1 1463.3,790.2 1464.6,788.6 1466.5,812 1468,835.5 1469.3,830.9 1470.7,828.5 1472,825.2 1473.3,822.1 1474.7,819.3 1476,815.9 1477.4,814.8 1478.7,813.4 1480.1,812.9 1481.4,811 1482.8,809.5 1484.1,808 1485.5,807 1486.8,807.9 1488.2,806.4 1489.5,805.9 1490.9,806.4 1492.2,806.5 1493.5,806 1494.9,805.6 1496.2,804.9 1497.5,804.6 1498.9,805.5 1500.2,804.7 1501.6,804.5 1502.9,804.2 1504.5,808.6 1506,814 1507.3,819.2 1508.5,823.9 1509.8,828.6 1511,828.3 1512.3,826.4 1513.5,824.2 1514.8,822.6 1516,822.5 1517.3,821.3 1518.6,820.4 1519.9,821.5 1521.2,820 1522.5,819.6 1523.8,820.2 1525.4,827.8 1527,835 1528.2,840.6 1529.5,848.8 1530.7,855.2 1532,854.3 1533.2,852.7 1534.5,852.6 1535.7,852.2 1537,850.5 1538.3,849 1539.5,849.2 1540.8,850.1 1542.1,848.9 1543.3,849.8 1544.6,850.3 1546,850.3 1547.3,849 1548.7,848.9 1550,849.3 1551.4,849.6 1552.7,848.2 1554.1,847.9 1555.4,848.8 1556.8,847.4 1558.2,851.6 1559.6,856.1 1561,859.6 1562.5,866.4 1564,874.3 1565.1,877.6 1566.2,880.1 1567.3,882.6 1568.7,879.7 1570.2,875.9 1571.6,872.8 1573,869.7 1574.4,868.7 1575.7,866.3 1577.1,865.8 1578.5,863.6 1579.8,861.2 1581.2,860.6 1582.5,862.8 1583.7,865.7 1585,867.8 1586.6,870.6 1588.2,874 1589.5,874.1 1590.7,873.2 1592,871.6 1593.2,869.9 1594.5,869.2 1595.7,869.2 1596.9,867.9 1598.5,877.1 1600,885.6 1601.1,892.7 1602.2,899 1603.3,907.2 1604.7,904 1606.2,901.3 1607.6,898.8 1609,895.8 1610.3,892.7 1611.6,892.5 1612.9,892.2 1614.2,889.7 1615.5,888.6 1617,889.8 1618.5,891.7 1620,892.2 1621.2,896.3 1622.4,900.2 1623.6,902.3 1624.8,906 1626,910.4 1627.4,912.5 1628.8,915.9 1630.1,920.8 1631.5,923.5 1632.9,927.3 1634.3,925.4 1635.7,922.3 1637.2,918.1 1638.6,916.2 1640,913.1 1641.3,911.8 1642.6,910.7 1643.9,909.3 1645.2,907.8 1646.4,907.4 1647.7,906.7 1649,905.9 1650.3,903.8 1651.7,910.5 1653,916.8 1654.3,914.6 1655.7,912.8 1657,911.5 1658.3,909.8 1659.5,908.3 1660.8,907.5 1662.1,907.3 1663.4,906.3 1664.6,904.5 1665.9,902.9 1667.3,905.8 1668.6,911.1 1670,915.5 1671.3,925.3 1672.7,936.4 1674,948.6 1675.3,957.3 1676.7,965.3 1678,972.5 1679.2,974.3 1680.4,976 1681.6,978.6 1682.9,977.7 1684.2,976.9 1685.4,977.3 1686.7,978.9 1688,978.5 1689.2,979 1690.5,979.8 1691.8,981.8 1693,982.3 1694.2,982.3 1695.5,982.9 1697,983.7 1698.5,981.6 1700,979.5 1701.4,979.8 1702.8,981 1704.2,980.1 1705.5,981.9 1706.7,983.3 1708,984.4 1709.5,985.9 1711,987.2 1712.2,986.8 1713.5,987 1714.8,989.4 1716,990.4" fill="none" stroke="#98b954" stroke-width="15.6" stroke-linejoin="round"/>
<polyline points="286,503 290.1,503.3 314.8,506.1 349.6,510 384.4,513.1 419.3,516.6 454.1,522.6 488.9,529.6 523.7,537.1 549.8,540.6 556,543 558.5,552 559.8,567 562.5,601.8 565,620 568.5,629 572.4,632.8 576,628 579,615 581.5,601.8 586.4,584.4 593.3,575.4 602,573.5 612.2,573.6 620,578 629.6,586.3 638.3,576.3 647,572.3 661,574.6 673.1,581.9 685.3,581 699.3,584 708.7,588.7 717.4,586.6 734.1,590.3 751.5,592.4 768.9,595.5 786.3,598.5 803.7,601.4 821.1,604.9 838.5,608.4 855.9,611.2 873.3,614.5 903.7,618 938.5,625.6 955.9,631.9 973.3,635.4 1000,640.6 1026.1,645.8 1052.2,652.2 1078.3,658.3 1104.4,665.3 1139.3,670.5 1163.6,674.9 1191.5,672.6 1205.4,677.1 1212,673 1217.6,671.4 1219.3,684.4 1220.5,720 1222.4,754 1224,800 1225.5,835 1227.8,851 1231,830 1234.8,792.6 1238,815 1242,841 1246,830 1249,800 1251.5,765 1254,748.2 1256.5,765 1259,810 1261,850 1262.7,869.4 1265,850 1270,815 1275,795 1280,787.4 1283,805 1286.2,841.5 1290,830 1297,800 1303,778 1308.8,767.4 1311,795 1313.1,841.9 1317,830 1323,805 1329,790 1333.2,784.4 1338,792 1342,815 1344.5,850 1346.2,862.7 1349,850 1355,825 1360,813 1363.6,811.4 1366,825 1367.5,838 1371,828 1379.3,815.7 1385,828 1389.7,845.9 1395,838 1400.2,834.4 1403.7,852.8 1409,849 1414.1,848.3 1426.3,852.7 1427.5,887.4 1432,876 1440.2,869.2 1443.1,878.4 1452.4,878.9 1469.8,882.4 1487.2,884.2 1502.9,892.7 1506,905 1510,930 1514.5,942.8 1519,930 1525,917.9 1531.9,926.2 1537,922 1542.4,920.5 1549,930 1556.3,941.5 1563,933 1570.2,929.5 1580.7,929.5 1586,921 1589.4,919.6 1591,940 1592.5,975 1594.6,996.7 1598,985 1604,965 1612,958.8 1618,970 1625.9,998.5 1632,991 1639.8,988.4 1641.6,1014.5 1647,1003 1653.8,997.4 1664.2,1005.8 1678.1,1006.1 1682,1022 1685.1,1035.4 1690,1030 1695.5,1028.7 1703,1032 1711,1035.7 1716,1038" fill="none" stroke="#7d60a0" stroke-width="11.6" stroke-linejoin="round"/>
<polyline points="286,502.1 287.4,503 288.7,502.7 290.1,503.3 291.4,503.6 292.7,502.7 294,502.9 295.3,504 296.6,503.2 297.9,503 299.2,503.7 300.5,504.1 301.8,504.3 303.1,504.6 304.4,505.2 305.7,505.8 307,506.3 308.3,505.7 309.6,506.7 310.9,506.9 312.2,506.9 313.5,507.5 314.8,507.4 316.1,506.1 317.4,505 318.7,505.9 320,506.2 321.2,506.4 322.5,507.7 323.8,507.3 325.1,508 326.4,508.1 327.7,508.5 329,508.6 330.3,509.1 331.6,508.2 332.8,508.6 334.1,509.9 335.4,508.5 336.7,509.2 338,509.6 339.3,509.4 340.6,508.7 341.9,509.8 343.2,510.2 344.4,509.2 345.7,508.7 347,509.8 348.3,510.5 349.6,510.5 350.9,510.5 352.2,509.3 353.5,510.4 354.8,510.6 356,511.2 357.3,510.4 358.6,509.8 359.9,511 361.2,510.4 362.5,510.6 363.8,512.1 365.1,511.1 366.4,510 367.6,511 368.9,511.5 370.2,512.3 371.5,511.7 372.8,511.2 374.1,511.8 375.4,511.3 376.7,512.6 378,512.2 379.2,513 380.5,513.1 381.8,512.5 383.1,513.6 384.4,513.2 385.7,514.1 387,513.9 388.3,514.1 389.6,513.9 390.9,514.8 392.2,514.9 393.4,515.3 394.7,515.9 396,514.2 397.3,513.4 398.6,514.8 399.9,515.5 401.2,515.1 402.5,516.4 403.8,515.9 405.1,515.4 406.4,516.5 407.7,517.3 409,516.1 410.3,516.4 411.5,517.1 412.8,515.9 414.1,517 415.4,516.2 416.7,516.7 418,516.8 419.3,515.8 420.6,516.1 421.9,515.7 423.2,516.6 424.5,518 425.7,517.9 427,517.9 428.3,517.9 429.6,518.8 430.9,520.1 432.2,519.6 433.5,519.1 434.8,519.3 436.1,520.6 437.3,520.6 438.6,519.8 439.9,519.4 441.2,520.2 442.5,520.7 443.8,520.6 445.1,522 446.4,522.5 447.7,522.5 448.9,521.9 450.2,521.7 451.5,521.4 452.8,522 454.1,523.3 455.4,523.5 456.7,524.2 458,524.2 459.3,524.7 460.5,524.3 461.8,524.7 463.1,525.7 464.4,526.1 465.7,526.7 467,526.8 468.3,527 469.6,527.4 470.9,526.3 472.1,525.7 473.4,526.4 474.7,527 476,527.5 477.3,527.2 478.6,526.8 479.9,526 481.2,526.6 482.5,528 483.7,528.6 485,528.7 486.3,529.8 487.6,530.8 488.9,530.1 490.2,529.5 491.5,530.5 492.8,531.3 494.1,530.6 495.3,531.1 496.6,531.3 497.9,531.9 499.2,532 500.5,532 501.8,532.5 503.1,533.1 504.4,534.5 505.7,535.4 506.9,535.6 508.2,534.6 509.5,535.5 510.8,534.4 512.1,533.6 513.4,535.5 514.7,535.4 516,534.7 517.3,535 518.5,535.9 519.8,536.9 521.1,536.7 522.4,537.7 523.7,538.8 525,537.8 526.3,536.6 527.6,537.2 528.9,537.7 530.2,538.6 531.5,539 532.8,539.1 534.1,540 535.4,539.6 536.8,539.1 538.1,540.4 539.4,540 540.7,540.8 542,541.1 543.3,539.7 544.6,539.8 545.9,539.9 547.2,538.9 548.5,539.1 549.8,539.3 551,540.3 552.3,540.5 553.5,541.5 554.8,543 556,542.8 557.2,546.9 558.5,551.6 559.8,566.8 561.1,584.1 562.5,600.6 563.8,610 565,619.7 566.2,622.9 567.3,625 568.5,628.4 569.8,630 571.1,631 572.4,633 573.6,631.2 574.8,630.2 576,629.4 577.5,621.7 579,614.5 580.2,608.1 581.5,602.5 582.7,597.4 584,592.5 585.2,588.3 586.4,584.2 587.8,582.1 589.2,580.9 590.5,578.3 591.9,576.2 593.3,575.3 594.5,574.3 595.8,574.3 597,573.3 598.3,574.1 599.5,573.7 600.8,572.7 602,572.9 603.3,574.1 604.5,574.2 605.8,573.5 607.1,573.9 608.4,574.6 609.7,574.2 610.9,574.8 612.2,574.9 613.5,574.4 614.8,575.5 616.1,575.8 617.4,576.1 618.7,577 620,578.9 621.4,580.1 622.7,580.1 624.1,581.4 625.5,582.1 626.9,583.3 628.2,585.5 629.6,587 630.8,585.1 632.1,583.2 633.3,582.1 634.6,580.9 635.8,580.3 637.1,578.7 638.3,576 639.5,575.8 640.8,575.7 642,575.9 643.3,574 644.5,572.9 645.8,573 647,572.6 648.3,572.8 649.5,573.4 650.8,572.3 652.1,571.4 653.4,571.8 654.6,572.5 655.9,573.5 657.2,575 658.5,575.3 659.7,575.9 661,574.5 662.3,575.5 663.7,576.7 665,578.1 666.4,579.2 667.7,579.6 669.1,580.6 670.4,580.5 671.8,581 673.1,581.3 674.5,581.6 675.8,581.8 677.2,582.8 678.5,581.4 679.9,581.4 681.2,582.3 682.6,581.4 683.9,581.2 685.3,580.5 686.6,581.5 687.8,582 689.1,580.9 690.4,582.7 691.7,583.8 692.9,583.3 694.2,584 695.5,583.7 696.8,583.2 698,584.5 699.3,584.2 700.6,583.2 702,583.3 703.3,584 704.7,585.1 706,587.7 707.4,588.7 708.7,589.3 709.9,590 711.2,589.5 712.4,588.9 713.7,588.8 714.9,587.3 716.2,586.9 717.4,587.2 718.7,586.1 720,585.7 721.3,587.6 722.5,587.4 723.8,586.9 725.1,588.8 726.4,590.2 727.7,590.2 729,589.1 730.2,589.9 731.5,590 732.8,589.9 734.1,591.4 735.4,591.3 736.8,591.4 738.1,590.5 739.5,589.7 740.8,590 742.1,590.5 743.5,590.7 744.8,590.5 746.1,591 747.5,590.8 748.8,592.3 750.2,592.2 751.5,591.4 752.8,590.9 754.2,591 755.5,592.7 756.9,593.4 758.2,593.2 759.5,593.2 760.9,593.3 762.2,593.8 763.5,595 764.9,594.6 766.2,594.4 767.6,594.4 768.9,594.8 770.2,595.4 771.6,595.3 772.9,596.2 774.3,595.8 775.6,596.2 776.9,597.4 778.3,597.2 779.6,596.5 780.9,595.8 782.3,597.3 783.6,598.6 785,598.7 786.3,598.7 787.6,598.5 789,599.8 790.3,599.8 791.7,599.1 793,599.5 794.3,599.9 795.7,599.6 797,599.4 798.3,599 799.7,601 801,601.1 802.4,600.7 803.7,601.6 805,601.7 806.4,603 807.7,603.4 809.1,603.8 810.4,603.7 811.7,603.6 813.1,603.5 814.4,603.6 815.7,604.6 817.1,603.6 818.4,603.4 819.8,604.4 821.1,605.1 822.4,605.3 823.8,606.2 825.1,605.9 826.5,605.4 827.8,606.9 829.1,608.1 830.5,606.8 831.8,606.9 833.1,607.5 834.5,608.2 835.8,608.3 837.2,606.9 838.5,606.7 839.8,606.7 841.2,607.8 842.5,608.8 843.9,609.4 845.2,609.6 846.5,610.3 847.9,611.6 849.2,611.9 850.5,610.3 851.9,610.4 853.2,609.6 854.6,611 855.9,610.6 857.2,610.4 858.6,611.1 859.9,612.2 861.3,613.2 862.6,612.7 863.9,613.1 865.3,614.3 866.6,614.2 867.9,614.2 869.3,614.2 870.6,613.4 872,614.5 873.3,614.4 874.6,613.5 875.9,614.6 877.3,615.4 878.6,614.6 879.9,615.1 881.2,615.3 882.6,615.2 883.9,614.3 885.2,615.2 886.5,614.8 887.8,614.9 889.2,614.8 890.5,616.3 891.8,616 893.1,616 894.4,617 895.8,616.7 897.1,617.2 898.4,616.4 899.7,617.3 901.1,617.7 902.4,618.9 903.7,619.5 905,619.7 906.3,618.7 907.6,618.9 908.9,619.8 910.1,619.8 911.4,619.2 912.7,619.2 914,620.4 915.3,621.2 916.6,620.9 917.9,621.3 919.2,621.1 920.5,620.9 921.7,621.5 923,622.3 924.3,623.4 925.6,623.4 926.9,623.9 928.2,624.3 929.5,624.6 930.8,623.3 932.1,623.9 933.3,625 934.6,625.8 935.9,625.4 937.2,624.8 938.5,625.7 939.8,625.9 941.2,627.5 942.5,627.1 943.9,627.9 945.2,627.3 946.5,626.9 947.9,628.2 949.2,628.2 950.5,628.7 951.9,629.1 953.2,629.7 954.6,631.6 955.9,632.4 957.2,632.8 958.6,632.5 959.9,633.3 961.3,633.4 962.6,632.4 963.9,632.6 965.3,632.8 966.6,633.8 967.9,634.3 969.3,634.8 970.6,634.5 972,635 973.3,635.1 974.6,635.3 975.8,634.9 977.1,635.3 978.4,635.5 979.7,635.5 980.9,636 982.2,636.7 983.5,636.9 984.7,637.9 986,638.7 987.3,639.2 988.6,639.8 989.8,638.9 991.1,638.5 992.4,639.5 993.6,639.8 994.9,640.5 996.2,640.2 997.5,640.1 998.7,640.1 1000,641.4 1001.3,641.1 1002.6,640.5 1003.9,640.5 1005.2,641.7 1006.5,642 1007.8,641.5 1009.1,642.4 1010.4,641.9 1011.7,642.1 1013,643.8 1014.4,643.2 1015.7,643.4 1017,644 1018.3,644.2 1019.6,644.8 1020.9,644.3 1022.2,644.8 1023.5,645.3 1024.8,644.8 1026.1,645.5 1027.4,646.7 1028.7,646.3 1030,646.3 1031.3,648 1032.6,648.6 1033.9,647.9 1035.2,647.7 1036.5,649.5 1037.8,649 1039.2,649.6 1040.5,650.4 1041.8,649.2 1043.1,649.1 1044.4,649.1 1045.7,649.4 1047,649.8 1048.3,650.7 1049.6,652 1050.9,653.1 1052.2,653.4 1053.5,654.1 1054.8,653.6 1056.1,653.6 1057.4,653.1 1058.7,653.7 1060,655.3 1061.3,655.3 1062.6,655.8 1063.9,655.6 1065.2,655 1066.6,655.1 1067.9,656.2 1069.2,657.1 1070.5,656.9 1071.8,656.2 1073.1,657.2 1074.4,657.3 1075.7,656.6 1077,657.2 1078.3,658.6 1079.6,659 1080.9,659 1082.2,658.6 1083.5,658 1084.8,659.4 1086.1,659.4 1087.4,659.8 1088.7,661.7 1090,661 1091.3,661 1092.7,662.2 1094,662.1 1095.3,662.6 1096.6,662.7 1097.9,664.1 1099.2,663.5 1100.5,663.5 1101.8,665 1103.1,665.1 1104.4,666.1 1105.7,665.6 1107,665 1108.3,666.5 1109.6,666.7 1110.9,666.9 1112.2,667.9 1113.4,667.9 1114.7,667.1 1116,667.2 1117.3,667.5 1118.6,668.3 1119.9,668 1121.2,669.1 1122.5,669 1123.8,667.8 1125.1,668.7 1126.4,668 1127.7,668.4 1129,668.3 1130.3,668.4 1131.5,670 1132.8,669.7 1134.1,669 1135.4,668.8 1136.7,669.6 1138,671 1139.3,671.3 1140.6,671.4 1141.9,671.4 1143.1,671.3 1144.4,671.8 1145.7,671.5 1147,671 1148.3,671.7 1149.5,671.8 1150.8,673 1152.1,673.5 1153.4,674 1154.6,673 1155.9,672.7 1157.2,673 1158.5,673.6 1159.8,674.4 1161,674.7 1162.3,675.2 1163.6,675.4 1164.9,674 1166.3,674 1167.6,674.3 1168.9,674.1 1170.2,675 1171.6,675.2 1172.9,674.9 1174.2,674.9 1175.6,674.9 1176.9,673.9 1178.2,675 1179.5,673.9 1180.9,672.6 1182.2,673.4 1183.5,674.2 1184.9,673 1186.2,671.8 1187.5,672.2 1188.8,671.4 1190.2,671.7 1191.5,671.5 1192.8,673.7 1194,674.6 1195.3,674 1196.6,674.3 1197.8,675.5 1199.1,676.1 1200.3,676.3 1201.6,675.4 1202.9,675.3 1204.1,675.6 1205.4,677.3 1206.7,676.8 1208,676.3 1209.4,674.2 1210.7,673.9 1212,673.4 1213.4,672.8 1214.8,671.5 1216.2,671.9 1217.6,671.2 1219.3,684.9 1220.5,720.2 1222.4,754 1224,799.8 1225.5,835.3 1226.7,843 1227.8,850.3 1229.4,839.4 1231,828.7 1232.3,817.5 1233.5,806.1 1234.8,792.6 1236.4,804.1 1238,816.3 1239.3,825.5 1240.7,833.2 1242,840.8 1243.3,837.6 1244.7,833.3 1246,829.1 1247.5,813.9 1249,798.5 1250.2,781.5 1251.5,765.4 1252.8,757.4 1254,748.5 1255.2,756 1256.5,763.9 1257.8,786.6 1259,809.6 1260,829.9 1261,848.9 1262.7,867.9 1263.8,858 1265,848.1 1266.2,840.8 1267.5,831.5 1268.8,824.1 1270,814.6 1271.2,810.4 1272.5,806.6 1273.8,801 1275,794.6 1276.2,793.9 1277.5,791.5 1278.8,789 1280,787.4 1281.5,797.5 1283,806.1 1284.6,822.9 1286.2,841.7 1287.5,837.5 1288.7,832.9 1290,830 1291.4,825.1 1292.8,819.2 1294.2,811.4 1295.6,804.4 1297,798.9 1298.2,795.3 1299.4,791.1 1300.6,787.2 1301.8,782.5 1303,778.3 1304.5,775.1 1305.9,772.2 1307.3,768.9 1308.8,766.9 1309.9,781.7 1311,795 1312,818.3 1313.1,842.7 1314.4,837.5 1315.7,834 1317,830.9 1318.2,825.9 1319.4,820.8 1320.6,815.1 1321.8,810.6 1323,806.1 1324.2,803 1325.4,800.4 1326.6,796.5 1327.8,794.2 1329,791.8 1330.4,788.4 1331.8,786.2 1333.2,784.8 1334.4,786.3 1335.6,787.3 1336.8,789 1338,790.6 1339.3,799.1 1340.7,808 1342,814.9 1343.2,831.3 1344.5,848.9 1346.2,863.1 1347.6,857.2 1349,850.4 1350.2,845.5 1351.4,839.2 1352.6,834.1 1353.8,830.2 1355,825.1 1356.2,821.9 1357.5,818.8 1358.8,816.3 1360,812.8 1361.2,812.6 1362.4,811.4 1363.6,811.1 1364.8,817.5 1366,824.9 1367.5,838.5 1368.7,835.6 1369.8,832.4 1371,827.2 1372.4,824.8 1373.8,822.6 1375.2,820.6 1376.5,820 1377.9,817.7 1379.3,815.5 1380.7,818.9 1382.2,822.4 1383.6,825.5 1385,828.6 1386.2,833.3 1387.3,838.4 1388.5,842.9 1389.7,846.7 1391,843.5 1392.3,842.3 1393.7,839.9 1395,837.8 1396.3,836.7 1397.6,835.8 1398.9,835.7 1400.2,834.4 1401.4,840.1 1402.5,846.1 1403.7,852.9 1405,853.4 1406.3,851.4 1407.7,850.6 1409,850.5 1410.3,849.6 1411.5,848.5 1412.8,849 1414.1,848.8 1415.5,849.1 1416.8,848.6 1418.2,849.3 1419.5,849.2 1420.9,850.8 1422.2,850.7 1423.6,851.4 1424.9,851.7 1426.3,852.6 1427.5,888.1 1429,882.8 1430.5,879.2 1432,875.8 1433.4,875.3 1434.7,874.5 1436.1,872.2 1437.5,871.7 1438.8,870.1 1440.2,867.9 1441.7,874.2 1443.1,878.8 1444.4,878.5 1445.8,879.1 1447.1,878.7 1448.4,878 1449.7,877.7 1451.1,878.9 1452.4,878 1453.7,879.2 1455.1,878.5 1456.4,877.7 1457.8,878.8 1459.1,879.6 1460.4,879.2 1461.8,879 1463.1,879.6 1464.4,880.8 1465.8,882.5 1467.1,882 1468.5,882.9 1469.8,882.8 1471.1,882.8 1472.5,882.7 1473.8,883.8 1475.2,882.8 1476.5,882.4 1477.8,882.5 1479.2,882.1 1480.5,883.8 1481.8,885 1483.2,884.1 1484.5,883.8 1485.9,884.1 1487.2,884.7 1488.5,885.3 1489.8,885.8 1491.1,887 1492.4,886.9 1493.7,888.5 1495.1,890.1 1496.4,890.3 1497.7,890.1 1499,889.7 1500.3,890.5 1501.6,892.7 1502.9,893 1504.5,897.9 1506,904 1507.3,912.8 1508.7,922.2 1510,930.8 1511.5,933.9 1513,938.9 1514.5,943.9 1516,939.3 1517.5,933.8 1519,929.3 1520.2,927.5 1521.4,925 1522.6,923.4 1523.8,920.2 1525,917.3 1526.4,920 1527.8,920.8 1529.1,923.1 1530.5,925.7 1531.9,927.8 1533.2,926.4 1534.5,924.4 1535.7,922.7 1537,921.7 1538.3,921.1 1539.7,920.2 1541.1,920.6 1542.4,921.1 1543.7,921.8 1545,924.2 1546.4,926.5 1547.7,927.4 1549,929.6 1550.2,932.9 1551.4,935.3 1552.7,936.4 1553.9,937.3 1555.1,940.8 1556.3,942.5 1557.6,939.6 1559,938.6 1560.3,937.4 1561.7,935 1563,932.8 1564.2,932.9 1565.4,933.2 1566.6,931.1 1567.8,930.3 1569,929.3 1570.2,929 1571.5,930.5 1572.8,929.5 1574.1,930.1 1575.5,930.7 1576.8,930.4 1578.1,930.1 1579.4,930.2 1580.7,930.9 1582,927.4 1583.3,924.9 1584.7,923.4 1586,922.4 1587.1,921 1588.3,920.3 1589.4,919 1591,939.3 1592.5,975.1 1593.5,985.9 1594.6,995.6 1595.7,991.6 1596.9,988.1 1598,984.2 1599.2,981 1600.4,977.6 1601.6,972.1 1602.8,968.6 1604,965.4 1605.3,963 1606.7,961.4 1608,961.5 1609.3,959.7 1610.7,959 1612,959.5 1613.2,962.3 1614.4,962.7 1615.6,965.9 1616.8,968.1 1618,970.5 1619.3,974.8 1620.6,980 1622,985.6 1623.3,988.8 1624.6,992.4 1625.9,998.6 1627.1,998.1 1628.3,995.5 1629.6,993 1630.8,992.5 1632,991.6 1633.3,990.3 1634.6,989.5 1635.9,989.9 1637.2,990.2 1638.5,988.7 1639.8,987.7 1641.6,1014.3 1642.9,1010.9 1644.3,1008.3 1645.7,1005.7 1647,1002.6 1648.4,1000.5 1649.7,1000.5 1651.1,1000.6 1652.4,998.8 1653.8,996.3 1655.1,998.5 1656.4,999.3 1657.7,999.9 1659,1002 1660.3,1002.4 1661.6,1003.1 1662.9,1004 1664.2,1004.6 1665.5,1005.4 1666.7,1004.8 1668,1005.5 1669.3,1005.2 1670.5,1005.2 1671.8,1006.4 1673,1006.4 1674.3,1005.7 1675.6,1005.6 1676.8,1005.2 1678.1,1006.8 1679.4,1012.5 1680.7,1016.7 1682,1022.8 1683.5,1029.9 1685.1,1035.6 1686.3,1033.6 1687.5,1032.1 1688.8,1031.6 1690,1030.9 1691.4,1030.2 1692.8,1028.5 1694.1,1028.9 1695.5,1028.5 1696.8,1028.4 1698,1030.3 1699.2,1030.2 1700.5,1030.6 1701.8,1031.4 1703,1031.8 1704.3,1031.3 1705.7,1032.7 1707,1033.6 1708.3,1034 1709.7,1035.3 1711,1036.1 1712.2,1035.8 1713.5,1037 1714.8,1036.9 1716,1038.4" fill="none" stroke="#7d60a0" stroke-width="15.6" stroke-linejoin="round"/>
</g>
<g filter="url(#crisp)">
<g font-size="63">
<text x="129.26" y="103.50" textLength="100.41" lengthAdjust="spacingAndGlyphs">100</text>
<text x="162.69" y="220.87" textLength="66.93" lengthAdjust="spacingAndGlyphs">90</text>
<text x="162.69" y="338.24" textLength="66.93" lengthAdjust="spacingAndGlyphs">80</text>
<text x="162.69" y="455.61" textLength="66.93" lengthAdjust="spacingAndGlyphs">70</text>
<text x="162.69" y="572.98" textLength="66.93" lengthAdjust="spacingAndGlyphs">60</text>
<text x="162.69" y="690.35" textLength="66.93" lengthAdjust="spacingAndGlyphs">50</text>
<text x="162.69" y="807.72" textLength="66.93" lengthAdjust="spacingAndGlyphs">40</text>
<text x="162.69" y="925.09" textLength="66.93" lengthAdjust="spacingAndGlyphs">30</text>
<text x="162.69" y="1042.46" textLength="66.93" lengthAdjust="spacingAndGlyphs">20</text>
<text x="162.69" y="1159.83" textLength="66.93" lengthAdjust="spacingAndGlyphs">10</text>
</g>
<g>
<text x="426.30" y="1246" font-size="63" textLength="134.72" lengthAdjust="spacingAndGlyphs">3500</text>
<text x="831.38" y="1246" font-size="63" textLength="134.63" lengthAdjust="spacingAndGlyphs">2500</text>
<text x="1235.41" y="1246" font-size="63" textLength="135.52" lengthAdjust="spacingAndGlyphs">1500</text>
<text x="1655.93" y="1246" font-size="63" textLength="104.02" lengthAdjust="spacingAndGlyphs">500</text>
</g>
<text font-size="60" font-weight="bold" y="0" transform="translate(90.1 0) rotate(-90)"><tspan x="-864.93" textLength="398.67" lengthAdjust="spacingAndGlyphs">Transmittance</tspan> <tspan x="-449.43" textLength="88.13" lengthAdjust="spacingAndGlyphs">(%)</tspan></text>
<text font-size="60" font-weight="bold" y="1346.6"><tspan x="720.90" textLength="372.58" lengthAdjust="spacingAndGlyphs">Wavenumber</tspan> <tspan x="1110.09" textLength="103.50" lengthAdjust="spacingAndGlyphs">(cm</tspan><tspan x="1212.00" textLength="46.15" lengthAdjust="spacingAndGlyphs" font-size="38" dy="-21.6">−1</tspan><tspan x="1260.79" textLength="17.18" lengthAdjust="spacingAndGlyphs" dy="21.6">)</tspan></text>
<g>
<g stroke="#000" stroke-width="0.8">
<text x="442.37" y="250.7" font-size="49.3" textLength="122.38" lengthAdjust="spacingAndGlyphs">C–OH</text>
<text x="596.48" y="217.8" font-size="49.3" textLength="87.58" lengthAdjust="spacingAndGlyphs">C–H</text>
<text x="1115.39" y="130.7" font-size="49.3" textLength="91.02" lengthAdjust="spacingAndGlyphs">C=O</text>
<text x="1270.52" y="203.5" font-size="49.3" textLength="83.35" lengthAdjust="spacingAndGlyphs">C=C</text>
<text x="1374.25" y="363.8" font-size="49.3" textLength="123.32" lengthAdjust="spacingAndGlyphs">C–OH</text>
<text x="1520.50" y="271.7" font-size="49.3" textLength="144.66" lengthAdjust="spacingAndGlyphs">C–O–C</text>
</g>
<line x1="549.1" y1="259.8" x2="549.1" y2="419" stroke="#000" stroke-width="2"/><polygon points="528.4,416.7 570.4,416.7 549.4,458.6"/>
<line x1="633" y1="224.8" x2="633" y2="438.2" stroke="#000" stroke-width="2"/><polygon points="612.3,435.9 654.3,435.9 633.3,477.8"/>
<line x1="1218" y1="129" x2="1218" y2="411.3" stroke="#000" stroke-width="2.1"/><polygon points="1197.3,409 1239.3,409 1218.3,450.9"/>
<line x1="1255.6" y1="208" x2="1255.6" y2="421.2" stroke="#000" stroke-width="3"/><polygon points="1234.9,418.9 1276.9,418.9 1255.9,460.8"/>
<line x1="1489.5" y1="377" x2="1489.5" y2="579.2" stroke="#000" stroke-width="3"/><polygon points="1468.8,576.9 1510.8,576.9 1489.8,618.8"/>
<line x1="1516.9" y1="289" x2="1516.9" y2="571.2" stroke="#000" stroke-width="2.1"/><polygon points="1496.2,568.9 1538.2,568.9 1517.2,610.8"/>
</g>
<g font-size="63">
<line x1="1860.9" y1="548.4" x2="1988.3" y2="548.4" stroke="#4a7ebb" stroke-width="15.2" stroke-linecap="round" shape-rendering="crispEdges"/><text y="568.30"><tspan x="2002.88" textLength="84.93" lengthAdjust="spacingAndGlyphs">GO</tspan><tspan x="2090.22" textLength="181.66" lengthAdjust="spacingAndGlyphs">_initial</tspan></text>
<line x1="1860.9" y1="668.75" x2="1988.3" y2="668.75" stroke="#be4b48" stroke-width="15.2" stroke-linecap="round" shape-rendering="crispEdges"/><text y="688.60"><tspan x="2002.88" textLength="84.93" lengthAdjust="spacingAndGlyphs">GO</tspan><tspan x="2088.56" textLength="53.86" lengthAdjust="spacingAndGlyphs">-1</tspan></text>
<line x1="1860.9" y1="789.1" x2="1988.3" y2="789.1" stroke="#98b954" stroke-width="15.2" stroke-linecap="round" shape-rendering="crispEdges"/><text y="808.90"><tspan x="2002.88" textLength="84.93" lengthAdjust="spacingAndGlyphs">GO</tspan><tspan x="2088.54" textLength="54.13" lengthAdjust="spacingAndGlyphs">-2</tspan></text>
<line x1="1860.9" y1="909.45" x2="1988.3" y2="909.45" stroke="#7d60a0" stroke-width="15.2" stroke-linecap="round" shape-rendering="crispEdges"/><text y="929.20"><tspan x="2002.88" textLength="84.93" lengthAdjust="spacingAndGlyphs">GO</tspan><tspan x="2088.57" textLength="53.59" lengthAdjust="spacingAndGlyphs">-3</tspan></text>
</g>
</g>
</svg>
</body>
</html>
